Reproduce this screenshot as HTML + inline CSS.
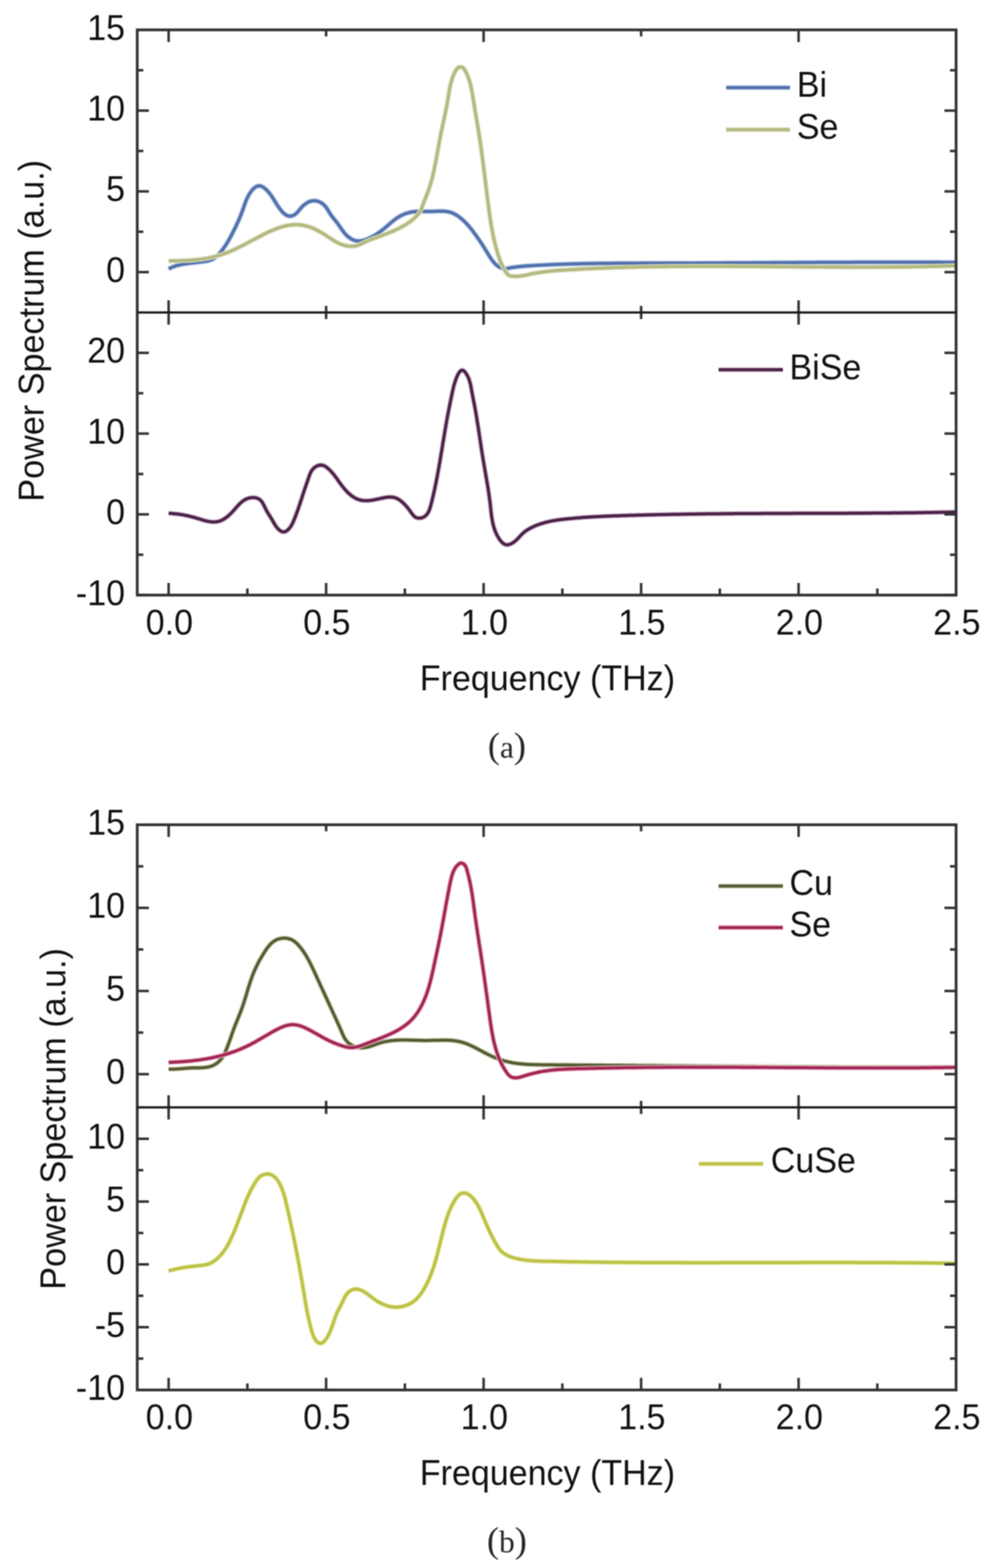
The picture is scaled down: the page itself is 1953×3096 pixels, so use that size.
<!DOCTYPE html>
<html><head><meta charset="utf-8"><title>Power Spectrum</title>
<style>html,body{margin:0;padding:0;background:#fff;overflow:hidden;width:1953px;height:3096px;}svg{display:block;filter:blur(1px);}</style>
</head><body>
<svg width="1953" height="3096" viewBox="0 0 1953 3096">
<rect width="1953" height="3096" fill="#fff"/>
<defs>
<path id="c0" d="M333.0,531.0L335.2,529.8 337.5,528.7 339.7,527.7 342.1,526.7 344.4,525.9 346.8,525.1 349.2,524.4 351.6,523.7 354.0,523.1 356.5,522.6 358.9,522.1 361.4,521.6 363.8,521.2 366.3,520.8 368.8,520.5 371.2,520.1 373.7,519.8 376.2,519.5 378.6,519.2 381.1,518.9 383.6,518.6 386.1,518.4 388.5,518.1 391.0,517.8 393.5,517.5 396.0,517.3 398.5,517.0 401.1,516.7 403.6,516.3 406.1,515.9 408.6,515.5 411.0,515.0 413.4,514.3 415.8,513.6 418.1,512.7 420.3,511.6 422.4,510.3 424.4,508.9 426.4,507.4 428.3,505.7 430.1,503.9 431.9,502.1 433.6,500.2 435.2,498.3 436.8,496.3 438.4,494.4 439.9,492.4 441.4,490.4 442.8,488.3 444.2,486.3 445.6,484.2 446.9,482.1 448.2,480.0 449.5,477.9 450.8,475.7 452.0,473.6 453.2,471.4 454.4,469.2 455.6,467.0 456.8,464.8 457.9,462.6 459.1,460.4 460.2,458.2 461.3,455.9 462.4,453.7 463.6,451.4 464.7,449.2 465.8,446.9 466.8,444.6 467.9,442.3 468.9,440.0 470.0,437.8 471.0,435.5 472.0,433.2 473.0,430.9 474.0,428.5 474.9,426.2 475.8,423.9 476.7,421.6 477.6,419.3 478.5,416.9 479.3,414.6 480.2,412.3 481.0,410.0 481.8,407.6 482.6,405.3 483.4,403.0 484.2,400.7 485.1,398.3 486.0,396.0 487.0,393.8 488.0,391.5 489.1,389.2 490.2,387.0 491.5,384.7 492.8,382.5 494.2,380.3 495.8,378.1 497.4,376.0 499.2,374.0 501.0,372.2 502.9,370.5 504.9,369.1 506.9,368.0 509.0,367.3 511.1,366.9 513.3,367.0 515.4,367.6 517.6,368.5 519.7,369.7 521.9,371.2 523.9,372.9 525.9,374.7 527.9,376.7 529.7,378.8 531.5,380.8 533.1,382.9 534.6,384.9 536.1,387.0 537.5,389.0 538.8,391.0 540.1,393.0 541.4,395.1 542.6,397.1 543.9,399.1 545.1,401.1 546.4,403.2 547.7,405.2 549.1,407.3 550.5,409.3 551.9,411.4 553.5,413.4 555.1,415.5 556.9,417.6 558.7,419.5 560.6,421.3 562.6,423.0 564.7,424.4 566.8,425.5 569.1,426.3 571.4,426.7 573.8,426.7 576.2,426.3 578.5,425.6 580.8,424.6 582.8,423.2 584.7,421.7 586.4,420.0 588.1,418.2 589.7,416.2 591.3,414.3 592.9,412.3 594.6,410.3 596.4,408.4 598.3,406.5 600.3,404.8 602.4,403.2 604.5,401.7 606.7,400.3 608.9,399.1 611.2,398.1 613.6,397.3 615.9,396.8 618.3,396.4 620.7,396.3 623.1,396.5 625.5,396.9 627.9,397.6 630.3,398.4 632.5,399.5 634.7,400.7 636.8,402.1 638.8,403.7 640.6,405.4 642.3,407.3 643.9,409.2 645.3,411.3 646.7,413.4 648.0,415.6 649.3,417.8 650.6,419.9 652.0,422.1 653.4,424.2 654.8,426.2 656.3,428.2 657.9,430.1 659.5,432.1 661.0,434.0 662.6,435.9 664.2,437.9 665.7,439.8 667.2,441.9 668.6,443.9 670.0,445.9 671.4,448.0 672.8,450.1 674.3,452.1 675.7,454.2 677.2,456.2 678.7,458.1 680.3,460.1 681.9,462.0 683.6,463.8 685.4,465.6 687.3,467.2 689.3,468.8 691.4,470.3 693.5,471.7 695.8,472.9 698.1,474.0 700.5,474.8 702.8,475.3 705.3,475.7 707.7,475.8 710.1,475.7 712.6,475.5 715.0,475.1 717.4,474.5 719.9,473.8 722.3,473.0 724.7,472.2 727.0,471.2 729.4,470.1 731.6,469.1 733.9,467.9 736.1,466.8 738.3,465.5 740.5,464.3 742.6,463.0 744.7,461.6 746.8,460.2 748.8,458.8 750.8,457.4 752.8,455.9 754.8,454.4 756.7,452.8 758.7,451.2 760.6,449.6 762.5,448.0 764.4,446.4 766.3,444.7 768.2,443.1 770.1,441.4 772.0,439.8 773.9,438.2 775.8,436.6 777.8,435.0 779.8,433.5 781.8,432.0 783.8,430.6 785.9,429.2 788.1,427.9 790.2,426.7 792.4,425.5 794.7,424.4 796.9,423.4 799.2,422.4 801.5,421.6 803.9,420.8 806.2,420.1 808.6,419.5 811.0,419.0 813.4,418.5 815.9,418.2 818.3,417.9 820.8,417.7 823.2,417.6 825.7,417.5 828.2,417.4 830.7,417.4 833.2,417.4 835.8,417.5 838.3,417.5 840.8,417.5 843.4,417.6 845.9,417.6 848.5,417.6 851.0,417.5 853.6,417.5 856.1,417.4 858.7,417.3 861.2,417.2 863.8,417.1 866.3,417.0 868.8,416.9 871.3,416.9 873.8,417.0 876.3,417.1 878.7,417.2 881.2,417.5 883.6,417.8 886.0,418.3 888.3,418.9 890.6,419.5 892.9,420.4 895.2,421.3 897.4,422.4 899.6,423.6 901.7,424.9 903.8,426.2 905.9,427.7 907.9,429.2 909.9,430.8 911.9,432.5 913.8,434.2 915.6,435.9 917.5,437.7 919.2,439.4 921.0,441.2 922.7,443.1 924.4,444.9 926.0,446.8 927.6,448.7 929.2,450.6 930.8,452.6 932.3,454.5 933.8,456.5 935.3,458.5 936.8,460.5 938.2,462.5 939.7,464.5 941.1,466.5 942.6,468.5 944.0,470.6 945.4,472.6 946.8,474.6 948.2,476.7 949.5,478.8 950.9,480.9 952.3,482.9 953.6,485.0 955.0,487.1 956.3,489.3 957.6,491.4 959.0,493.5 960.3,495.7 961.6,497.8 962.9,500.0 964.2,502.2 965.5,504.4 966.9,506.5 968.2,508.6 969.6,510.7 971.1,512.8 972.6,514.8 974.1,516.8 975.7,518.7 977.4,520.5 979.2,522.2 981.0,523.8 983.0,525.4 985.1,526.8 987.2,528.0 989.5,529.1 991.8,529.9 994.2,530.3 996.6,530.4 999.1,530.3 1001.6,529.9 1004.1,529.5 1006.6,529.0 1009.1,528.6 1011.6,528.2 1014.1,527.8 1016.6,527.5 1019.1,527.1 1021.6,526.8 1024.1,526.6 1026.6,526.3 1029.1,526.0 1031.6,525.8 1034.1,525.6 1036.6,525.4 1039.0,525.2 1041.5,525.0 1044.0,524.9 1046.5,524.7 1049.0,524.5 1051.5,524.4 1054.0,524.2 1056.5,524.1 1058.9,524.0 1061.4,523.8 1063.9,523.7 1066.4,523.6 1068.9,523.4 1071.4,523.3 1073.9,523.2 1076.4,523.1 1078.9,522.9 1081.4,522.8 1083.8,522.7 1086.3,522.6 1088.8,522.5 1091.3,522.4 1093.8,522.3 1096.3,522.2 1098.8,522.1 1101.3,522.0 1103.8,521.9 1106.3,521.8 1108.8,521.7 1111.3,521.7 1113.8,521.6 1116.3,521.5 1118.7,521.4 1121.2,521.3 1123.7,521.3 1126.2,521.2 1128.7,521.1 1131.2,521.1 1133.7,521.0 1136.2,520.9 1138.7,520.9 1141.2,520.8 1143.7,520.8 1146.2,520.7 1148.7,520.7 1151.2,520.6 1153.7,520.6 1156.2,520.5 1158.7,520.5 1161.2,520.4 1163.7,520.4 1166.2,520.3 1168.7,520.3 1171.2,520.3 1173.7,520.2 1176.1,520.2 1178.6,520.2 1181.1,520.1 1183.6,520.1 1186.1,520.1 1188.6,520.0 1191.1,520.0 1193.6,520.0 1196.1,520.0 1198.6,519.9 1201.1,519.9 1203.6,519.9 1206.1,519.9 1208.6,519.9 1211.1,519.8 1213.6,519.8 1216.1,519.8 1218.6,519.8 1221.1,519.8 1223.6,519.8 1226.1,519.8 1228.6,519.7 1231.1,519.7 1233.6,519.7 1236.1,519.7 1238.6,519.7 1241.1,519.7 1243.6,519.7 1246.1,519.7 1248.6,519.7 1251.1,519.7 1253.6,519.7 1256.1,519.7 1258.6,519.7 1261.1,519.7 1263.6,519.7 1266.1,519.6 1268.6,519.6 1271.1,519.6 1273.6,519.6 1276.1,519.6 1278.6,519.6 1281.1,519.6 1283.6,519.6 1286.1,519.6 1288.6,519.6 1291.1,519.6 1293.6,519.6 1296.1,519.6 1298.6,519.6 1301.1,519.6 1303.6,519.6 1306.1,519.6 1308.6,519.6 1311.1,519.6 1313.6,519.6 1316.1,519.6 1318.6,519.6 1321.1,519.6 1323.6,519.6 1326.1,519.6 1328.6,519.5 1331.1,519.5 1333.6,519.5 1336.1,519.5 1338.6,519.5 1341.1,519.5 1343.6,519.5 1346.1,519.5 1348.6,519.5 1351.1,519.5 1353.6,519.5 1356.1,519.5 1358.6,519.5 1361.1,519.4 1363.6,519.4 1366.1,519.4 1368.6,519.4 1371.0,519.4 1373.5,519.4 1376.0,519.4 1378.5,519.4 1381.0,519.4 1383.5,519.4 1386.0,519.4 1388.5,519.3 1391.0,519.3 1393.5,519.3 1396.0,519.3 1398.5,519.3 1401.0,519.3 1403.5,519.3 1406.0,519.3 1408.5,519.3 1411.0,519.2 1413.5,519.2 1416.0,519.2 1418.5,519.2 1421.0,519.2 1423.5,519.2 1426.0,519.2 1428.5,519.2 1431.0,519.1 1433.5,519.1 1436.0,519.1 1438.5,519.1 1441.0,519.1 1443.5,519.1 1446.0,519.1 1448.5,519.1 1451.0,519.0 1453.5,519.0 1456.0,519.0 1458.5,519.0 1461.0,519.0 1463.5,519.0 1466.0,519.0 1468.5,518.9 1471.0,518.9 1473.4,518.9 1475.9,518.9 1478.4,518.9 1480.9,518.9 1483.4,518.9 1485.9,518.9 1488.4,518.8 1490.9,518.8 1493.4,518.8 1495.9,518.8 1498.4,518.8 1500.9,518.8 1503.4,518.8 1505.9,518.7 1508.4,518.7 1510.9,518.7 1513.4,518.7 1515.9,518.7 1518.4,518.7 1520.9,518.7 1523.4,518.6 1525.9,518.6 1528.4,518.6 1530.9,518.6 1533.4,518.6 1535.9,518.6 1538.4,518.6 1540.9,518.5 1543.4,518.5 1545.9,518.5 1548.4,518.5 1550.9,518.5 1553.3,518.5 1555.8,518.5 1558.3,518.4 1560.8,518.4 1563.3,518.4 1565.8,518.4 1568.3,518.4 1570.8,518.4 1573.3,518.4 1575.8,518.3 1578.3,518.3 1580.8,518.3 1583.3,518.3 1585.8,518.3 1588.3,518.3 1590.8,518.3 1593.3,518.2 1595.8,518.2 1598.3,518.2 1600.8,518.2 1603.3,518.2 1605.8,518.2 1608.3,518.2 1610.8,518.2 1613.3,518.1 1615.8,518.1 1618.3,518.1 1620.8,518.1 1623.3,518.1 1625.8,518.1 1628.2,518.1 1630.7,518.1 1633.2,518.1 1635.7,518.0 1638.2,518.0 1640.7,518.0 1643.2,518.0 1645.7,518.0 1648.2,518.0 1650.7,518.0 1653.2,518.0 1655.7,518.0 1658.2,517.9 1660.7,517.9 1663.2,517.9 1665.7,517.9 1668.2,517.9 1670.7,517.9 1673.2,517.9 1675.7,517.9 1678.2,517.9 1680.7,517.9 1683.2,517.9 1685.7,517.8 1688.2,517.8 1690.7,517.8 1693.2,517.8 1695.7,517.8 1698.2,517.8 1700.7,517.8 1703.2,517.8 1705.7,517.8 1708.1,517.8 1710.6,517.8 1713.1,517.8 1715.6,517.8 1718.1,517.8 1720.6,517.7 1723.1,517.7 1725.6,517.7 1728.1,517.7 1730.6,517.7 1733.1,517.7 1735.6,517.7 1738.1,517.7 1740.6,517.7 1743.1,517.7 1745.6,517.7 1748.1,517.7 1750.6,517.7 1753.1,517.7 1755.6,517.7 1758.1,517.7 1760.6,517.7 1763.1,517.7 1765.6,517.7 1768.1,517.7 1770.6,517.7 1773.1,517.7 1775.6,517.7 1778.1,517.7 1780.6,517.7 1783.1,517.7 1785.6,517.7 1788.1,517.7 1790.6,517.7 1793.1,517.7 1795.6,517.7 1798.1,517.7 1800.6,517.7 1803.1,517.7 1805.6,517.7 1808.0,517.7 1810.5,517.7 1813.0,517.7 1815.5,517.7 1818.0,517.7 1820.5,517.7 1823.0,517.7 1825.5,517.7 1828.0,517.7 1830.5,517.8 1833.0,517.8 1835.5,517.8 1838.0,517.8 1840.5,517.8 1843.0,517.8 1845.5,517.8 1848.0,517.8 1850.5,517.8 1853.0,517.8 1855.5,517.8 1858.0,517.8 1860.5,517.9 1863.0,517.9 1865.5,517.9 1868.0,517.9 1870.5,517.9 1873.0,517.9 1875.5,517.9 1878.0,517.9 1880.5,518.0 1883.0,518.0 1885.5,518.0 1888.0,518.0"/>
<path id="c1" d="M333.0,515.2L335.5,515.2 338.0,515.1 340.5,515.1 343.0,515.1 345.5,515.0 348.0,515.0 350.5,514.9 353.0,514.9 355.5,514.8 358.0,514.7 360.5,514.6 363.0,514.5 365.5,514.4 368.0,514.3 370.5,514.2 372.9,514.1 375.4,513.9 377.9,513.7 380.4,513.5 382.9,513.3 385.3,513.1 387.8,512.9 390.3,512.6 392.8,512.3 395.2,512.0 397.7,511.7 400.2,511.3 402.7,510.9 405.2,510.5 407.6,510.1 410.1,509.6 412.6,509.2 415.1,508.6 417.5,508.1 420.0,507.6 422.4,507.0 424.9,506.3 427.3,505.7 429.7,505.0 432.1,504.3 434.5,503.6 436.9,502.9 439.3,502.1 441.7,501.3 444.0,500.4 446.3,499.6 448.7,498.7 451.0,497.8 453.3,496.8 455.5,495.9 457.8,494.9 460.1,493.9 462.3,492.9 464.6,491.9 466.8,490.8 469.0,489.7 471.3,488.6 473.5,487.5 475.7,486.4 477.9,485.3 480.1,484.2 482.3,483.0 484.5,481.9 486.7,480.7 488.9,479.6 491.1,478.4 493.3,477.2 495.5,476.0 497.7,474.9 500.0,473.7 502.2,472.5 504.4,471.3 506.6,470.1 508.8,469.0 511.1,467.8 513.3,466.6 515.5,465.5 517.8,464.3 520.1,463.2 522.3,462.0 524.6,460.9 526.9,459.8 529.2,458.7 531.5,457.6 533.8,456.6 536.1,455.5 538.4,454.5 540.8,453.6 543.1,452.6 545.5,451.7 547.8,450.9 550.2,450.0 552.5,449.2 554.9,448.5 557.3,447.8 559.7,447.1 562.1,446.5 564.5,445.9 566.9,445.4 569.3,445.0 571.7,444.6 574.1,444.3 576.5,444.0 578.9,443.8 581.3,443.7 583.8,443.6 586.2,443.6 588.6,443.7 591.1,443.8 593.5,444.1 595.9,444.4 598.4,444.8 600.8,445.3 603.3,445.8 605.7,446.5 608.1,447.2 610.6,448.0 613.0,448.8 615.4,449.7 617.8,450.7 620.2,451.7 622.5,452.8 624.8,453.9 627.2,455.1 629.4,456.3 631.7,457.5 633.9,458.8 636.1,460.1 638.3,461.4 640.4,462.8 642.5,464.1 644.6,465.5 646.7,466.9 648.8,468.3 650.8,469.6 652.9,471.0 654.9,472.3 657.0,473.7 659.0,474.9 661.1,476.2 663.2,477.4 665.4,478.5 667.6,479.6 669.8,480.7 672.0,481.7 674.3,482.6 676.7,483.4 679.1,484.1 681.6,484.8 684.1,485.3 686.6,485.8 689.1,486.1 691.7,486.3 694.2,486.3 696.7,486.3 699.2,486.0 701.7,485.7 704.1,485.1 706.5,484.4 708.8,483.5 711.1,482.6 713.4,481.5 715.7,480.4 717.9,479.3 720.2,478.2 722.4,477.1 724.7,476.1 727.0,475.1 729.3,474.2 731.6,473.3 734.0,472.4 736.3,471.5 738.6,470.7 741.0,469.8 743.3,469.0 745.7,468.1 748.0,467.3 750.4,466.4 752.7,465.5 755.1,464.7 757.4,463.8 759.8,462.9 762.1,462.0 764.5,461.1 766.8,460.2 769.1,459.2 771.4,458.3 773.7,457.3 776.0,456.4 778.3,455.3 780.6,454.3 782.9,453.3 785.1,452.2 787.4,451.1 789.6,450.0 791.8,448.8 794.0,447.6 796.1,446.4 798.3,445.2 800.4,443.9 802.5,442.6 804.6,441.2 806.7,439.8 808.7,438.4 810.8,436.9 812.8,435.4 814.7,433.8 816.6,432.2 818.5,430.5 820.4,428.8 822.1,427.0 823.8,425.2 825.4,423.3 826.9,421.4 828.3,419.3 829.6,417.3 830.8,415.1 831.8,412.9 832.8,410.6 833.7,408.3 834.5,405.9 835.4,403.6 836.2,401.2 837.1,398.8 838.0,396.5 838.9,394.2 839.9,391.8 840.9,389.5 841.8,387.2 842.8,384.9 843.7,382.5 844.6,380.2 845.4,377.8 846.2,375.5 847.1,373.1 847.8,370.7 848.6,368.4 849.3,366.0 850.1,363.6 850.8,361.2 851.5,358.8 852.1,356.4 852.8,354.0 853.4,351.6 854.0,349.2 854.6,346.8 855.2,344.4 855.7,341.9 856.3,339.5 856.8,337.1 857.3,334.7 857.9,332.2 858.4,329.8 858.9,327.3 859.4,324.9 859.8,322.4 860.3,320.0 860.8,317.5 861.2,315.1 861.7,312.6 862.1,310.2 862.6,307.7 863.0,305.2 863.5,302.8 863.9,300.3 864.3,297.9 864.8,295.4 865.2,292.9 865.7,290.5 866.1,288.0 866.5,285.5 867.0,283.1 867.5,280.6 867.9,278.2 868.4,275.7 868.9,273.2 869.3,270.8 869.8,268.3 870.3,265.9 870.8,263.4 871.3,260.9 871.8,258.5 872.4,256.0 872.9,253.6 873.4,251.1 873.9,248.7 874.4,246.2 875.0,243.8 875.5,241.3 876.0,238.9 876.5,236.4 877.0,234.0 877.6,231.5 878.1,229.1 878.6,226.7 879.1,224.2 879.6,221.8 880.1,219.3 880.6,216.9 881.1,214.4 881.5,212.0 882.0,209.5 882.5,207.1 882.9,204.7 883.3,202.2 883.8,199.8 884.2,197.3 884.6,194.9 885.0,192.4 885.4,190.0 885.8,187.5 886.2,185.1 886.6,182.6 887.0,180.2 887.4,177.8 887.9,175.3 888.3,172.9 888.8,170.4 889.4,168.0 889.9,165.6 890.6,163.1 891.2,160.7 891.9,158.3 892.7,155.9 893.5,153.5 894.4,151.0 895.4,148.6 896.4,146.2 897.5,143.8 898.7,141.4 900.0,139.1 901.4,136.9 903.1,135.0 904.9,133.5 907.0,132.6 909.2,132.1 911.2,132.3 913.1,133.1 914.8,134.4 916.4,136.1 917.8,138.2 919.1,140.4 920.4,142.8 921.5,145.2 922.6,147.6 923.6,150.1 924.5,152.5 925.4,154.9 926.3,157.3 927.0,159.8 927.7,162.2 928.4,164.6 929.1,167.0 929.6,169.5 930.2,171.9 930.7,174.3 931.2,176.8 931.7,179.2 932.1,181.6 932.6,184.1 933.0,186.5 933.4,189.0 933.8,191.4 934.2,193.8 934.6,196.3 935.0,198.7 935.4,201.2 935.8,203.6 936.2,206.1 936.6,208.5 937.0,211.0 937.4,213.4 937.8,215.9 938.2,218.4 938.6,220.8 939.1,223.3 939.5,225.7 939.9,228.2 940.3,230.7 940.7,233.1 941.1,235.6 941.5,238.1 942.0,240.5 942.4,243.0 942.8,245.5 943.2,248.0 943.6,250.4 944.0,252.9 944.4,255.4 944.8,257.9 945.2,260.3 945.6,262.8 946.0,265.3 946.4,267.7 946.8,270.2 947.1,272.7 947.5,275.2 947.9,277.6 948.2,280.1 948.6,282.6 949.0,285.1 949.3,287.5 949.7,290.0 950.0,292.5 950.4,295.0 950.7,297.4 951.1,299.9 951.4,302.4 951.7,304.9 952.1,307.4 952.4,309.8 952.7,312.3 953.0,314.8 953.4,317.3 953.7,319.7 954.0,322.2 954.3,324.7 954.6,327.2 954.9,329.6 955.2,332.1 955.6,334.6 955.9,337.1 956.2,339.5 956.5,342.0 956.8,344.5 957.1,347.0 957.4,349.4 957.7,351.9 958.0,354.4 958.3,356.9 958.6,359.3 958.9,361.8 959.2,364.3 959.5,366.8 959.8,369.3 960.1,371.7 960.4,374.2 960.7,376.7 961.0,379.2 961.3,381.6 961.6,384.1 962.0,386.6 962.3,389.1 962.6,391.6 962.9,394.0 963.2,396.5 963.5,399.0 963.8,401.5 964.2,404.0 964.5,406.4 964.8,408.9 965.2,411.4 965.5,413.9 965.8,416.4 966.2,418.8 966.5,421.3 966.9,423.8 967.2,426.3 967.6,428.7 967.9,431.2 968.3,433.7 968.7,436.2 969.1,438.6 969.5,441.1 969.9,443.6 970.3,446.0 970.7,448.5 971.2,451.0 971.6,453.4 972.1,455.9 972.5,458.3 973.0,460.8 973.5,463.2 974.0,465.7 974.5,468.1 975.0,470.5 975.6,473.0 976.1,475.4 976.7,477.8 977.3,480.3 977.9,482.7 978.5,485.1 979.2,487.5 979.8,489.9 980.5,492.3 981.2,494.7 981.9,497.1 982.6,499.5 983.3,501.9 984.1,504.2 984.9,506.6 985.7,509.0 986.5,511.3 987.3,513.7 988.2,516.0 989.2,518.3 990.1,520.7 991.1,523.0 992.2,525.2 993.3,527.5 994.5,529.7 995.7,532.0 997.0,534.2 998.3,536.3 999.7,538.5 1001.3,540.4 1003.0,542.1 1005.0,543.5 1007.2,544.4 1009.5,545.1 1012.0,545.4 1014.5,545.6 1017.0,545.7 1019.6,545.7 1022.1,545.5 1024.5,545.4 1027.0,545.1 1029.5,544.8 1032.0,544.4 1034.5,544.0 1036.9,543.5 1039.4,543.0 1041.9,542.5 1044.3,542.0 1046.8,541.4 1049.2,540.9 1051.7,540.4 1054.2,539.9 1056.6,539.5 1059.1,539.0 1061.6,538.6 1064.0,538.2 1066.5,537.8 1069.0,537.5 1071.5,537.1 1073.9,536.8 1076.4,536.5 1078.9,536.2 1081.4,535.9 1083.9,535.6 1086.3,535.4 1088.8,535.1 1091.3,534.9 1093.8,534.7 1096.3,534.5 1098.8,534.3 1101.3,534.1 1103.8,533.9 1106.2,533.7 1108.7,533.5 1111.2,533.4 1113.7,533.2 1116.2,533.1 1118.7,532.9 1121.2,532.8 1123.7,532.6 1126.2,532.5 1128.7,532.3 1131.2,532.2 1133.7,532.0 1136.2,531.9 1138.7,531.8 1141.2,531.6 1143.6,531.5 1146.1,531.3 1148.6,531.2 1151.1,531.1 1153.6,531.0 1156.1,530.8 1158.6,530.7 1161.1,530.6 1163.6,530.5 1166.1,530.4 1168.6,530.2 1171.1,530.1 1173.6,530.0 1176.1,529.9 1178.6,529.8 1181.1,529.7 1183.6,529.6 1186.0,529.5 1188.5,529.4 1191.0,529.3 1193.5,529.2 1196.0,529.1 1198.5,529.0 1201.0,528.9 1203.5,528.8 1206.0,528.7 1208.5,528.6 1211.0,528.6 1213.5,528.5 1216.0,528.4 1218.5,528.3 1221.0,528.2 1223.5,528.1 1226.0,528.1 1228.5,528.0 1231.0,527.9 1233.5,527.8 1236.0,527.8 1238.5,527.7 1241.0,527.6 1243.5,527.6 1245.9,527.5 1248.4,527.4 1250.9,527.4 1253.4,527.3 1255.9,527.3 1258.4,527.2 1260.9,527.1 1263.4,527.1 1265.9,527.0 1268.4,527.0 1270.9,526.9 1273.4,526.9 1275.9,526.8 1278.4,526.8 1280.9,526.7 1283.4,526.7 1285.9,526.6 1288.4,526.6 1290.9,526.6 1293.4,526.5 1295.9,526.5 1298.4,526.4 1300.9,526.4 1303.4,526.4 1305.9,526.3 1308.4,526.3 1310.9,526.3 1313.4,526.2 1315.9,526.2 1318.4,526.2 1320.9,526.1 1323.4,526.1 1325.9,526.1 1328.4,526.1 1330.9,526.0 1333.4,526.0 1335.9,526.0 1338.4,526.0 1340.9,526.0 1343.4,525.9 1345.8,525.9 1348.3,525.9 1350.8,525.9 1353.3,525.9 1355.8,525.9 1358.3,525.8 1360.8,525.8 1363.3,525.8 1365.8,525.8 1368.3,525.8 1370.8,525.8 1373.3,525.8 1375.8,525.8 1378.3,525.8 1380.8,525.8 1383.3,525.8 1385.8,525.8 1388.3,525.7 1390.8,525.7 1393.3,525.7 1395.8,525.7 1398.3,525.7 1400.8,525.7 1403.3,525.7 1405.8,525.7 1408.3,525.7 1410.8,525.7 1413.3,525.8 1415.8,525.8 1418.3,525.8 1420.8,525.8 1423.3,525.8 1425.8,525.8 1428.3,525.8 1430.8,525.8 1433.3,525.8 1435.8,525.8 1438.3,525.8 1440.8,525.8 1443.3,525.8 1445.8,525.9 1448.3,525.9 1450.8,525.9 1453.3,525.9 1455.8,525.9 1458.3,525.9 1460.8,525.9 1463.3,525.9 1465.8,526.0 1468.3,526.0 1470.8,526.0 1473.3,526.0 1475.8,526.0 1478.3,526.0 1480.8,526.0 1483.3,526.1 1485.8,526.1 1488.3,526.1 1490.8,526.1 1493.3,526.1 1495.8,526.2 1498.3,526.2 1500.8,526.2 1503.3,526.2 1505.8,526.2 1508.3,526.2 1510.8,526.3 1513.3,526.3 1515.8,526.3 1518.3,526.3 1520.8,526.3 1523.3,526.4 1525.8,526.4 1528.3,526.4 1530.8,526.4 1533.3,526.4 1535.8,526.5 1538.3,526.5 1540.8,526.5 1543.3,526.5 1545.8,526.6 1548.3,526.6 1550.8,526.6 1553.3,526.6 1555.8,526.6 1558.3,526.7 1560.8,526.7 1563.3,526.7 1565.8,526.7 1568.3,526.7 1570.8,526.8 1573.3,526.8 1575.8,526.8 1578.3,526.8 1580.8,526.8 1583.3,526.9 1585.8,526.9 1588.3,526.9 1590.8,526.9 1593.3,526.9 1595.8,527.0 1598.3,527.0 1600.8,527.0 1603.3,527.0 1605.8,527.0 1608.3,527.0 1610.8,527.1 1613.3,527.1 1615.8,527.1 1618.3,527.1 1620.8,527.1 1623.3,527.1 1625.8,527.2 1628.3,527.2 1630.8,527.2 1633.3,527.2 1635.8,527.2 1638.3,527.2 1640.8,527.2 1643.3,527.3 1645.8,527.3 1648.3,527.3 1650.8,527.3 1653.3,527.3 1655.8,527.3 1658.3,527.3 1660.8,527.3 1663.3,527.3 1665.8,527.3 1668.3,527.4 1670.8,527.4 1673.3,527.4 1675.8,527.4 1678.3,527.4 1680.8,527.4 1683.3,527.4 1685.8,527.4 1688.2,527.4 1690.7,527.4 1693.2,527.4 1695.7,527.4 1698.2,527.4 1700.7,527.4 1703.2,527.4 1705.7,527.4 1708.2,527.4 1710.7,527.4 1713.2,527.4 1715.7,527.4 1718.2,527.4 1720.7,527.4 1723.2,527.4 1725.7,527.4 1728.2,527.3 1730.7,527.3 1733.2,527.3 1735.7,527.3 1738.2,527.3 1740.7,527.3 1743.2,527.3 1745.7,527.3 1748.2,527.2 1750.7,527.2 1753.2,527.2 1755.7,527.2 1758.2,527.2 1760.7,527.1 1763.2,527.1 1765.7,527.1 1768.2,527.1 1770.7,527.1 1773.2,527.0 1775.7,527.0 1778.2,527.0 1780.7,526.9 1783.2,526.9 1785.7,526.9 1788.2,526.8 1790.7,526.8 1793.2,526.8 1795.7,526.7 1798.2,526.7 1800.7,526.7 1803.1,526.6 1805.6,526.6 1808.1,526.5 1810.6,526.5 1813.1,526.5 1815.6,526.4 1818.1,526.4 1820.6,526.3 1823.1,526.3 1825.6,526.2 1828.1,526.2 1830.6,526.1 1833.1,526.1 1835.6,526.0 1838.1,525.9 1840.6,525.9 1843.1,525.8 1845.6,525.8 1848.1,525.7 1850.6,525.6 1853.1,525.6 1855.6,525.5 1858.1,525.4 1860.6,525.4 1863.1,525.3 1865.5,525.2 1868.0,525.1 1870.5,525.1 1873.0,525.0 1875.5,524.9 1878.0,524.8 1880.5,524.8 1883.0,524.7 1885.5,524.6 1888.0,524.5"/>
<path id="c2" d="M333.0,1013.5L335.6,1013.6 338.2,1013.8 340.8,1014.0 343.3,1014.2 345.8,1014.4 348.3,1014.7 350.8,1015.0 353.2,1015.3 355.6,1015.7 358.0,1016.0 360.4,1016.4 362.8,1016.9 365.2,1017.3 367.5,1017.8 369.9,1018.3 372.3,1018.8 374.7,1019.4 377.0,1020.0 379.4,1020.6 381.8,1021.2 384.2,1021.9 386.7,1022.6 389.1,1023.3 391.6,1024.1 394.1,1024.9 396.6,1025.6 399.1,1026.4 401.6,1027.1 404.2,1027.8 406.7,1028.5 409.2,1029.0 411.7,1029.6 414.2,1030.0 416.7,1030.3 419.2,1030.6 421.6,1030.7 424.0,1030.6 426.4,1030.4 428.8,1030.1 431.1,1029.6 433.4,1028.9 435.6,1028.1 437.8,1027.2 440.0,1026.1 442.1,1024.9 444.2,1023.5 446.3,1022.1 448.3,1020.6 450.2,1019.0 452.2,1017.3 454.1,1015.5 455.9,1013.7 457.7,1011.9 459.5,1010.0 461.3,1008.0 463.0,1006.1 464.7,1004.1 466.4,1002.2 468.1,1000.3 469.8,998.4 471.5,996.6 473.3,994.8 475.1,993.1 476.9,991.4 478.8,989.9 480.8,988.5 482.8,987.2 485.0,986.0 487.2,985.0 489.5,984.1 491.9,983.4 494.4,982.9 496.9,982.6 499.5,982.5 502.0,982.5 504.4,982.9 506.8,983.4 509.0,984.2 511.2,985.2 513.1,986.6 514.9,988.2 516.6,990.0 518.0,992.1 519.4,994.3 520.6,996.6 521.8,999.1 523.0,1001.5 524.2,1003.9 525.3,1006.3 526.5,1008.6 527.8,1010.8 529.0,1013.0 530.3,1015.1 531.6,1017.1 532.9,1019.2 534.2,1021.2 535.5,1023.3 536.8,1025.3 538.0,1027.5 539.3,1029.7 540.5,1031.9 541.8,1034.1 543.1,1036.3 544.5,1038.4 546.0,1040.6 547.6,1042.6 549.4,1044.5 551.3,1046.3 553.4,1047.9 555.6,1049.2 557.8,1050.0 560.0,1050.3 562.2,1050.0 564.4,1049.1 566.5,1047.8 568.5,1046.2 570.3,1044.4 572.0,1042.5 573.6,1040.4 575.0,1038.3 576.2,1036.1 577.4,1033.8 578.5,1031.5 579.5,1029.2 580.5,1026.8 581.5,1024.5 582.4,1022.1 583.3,1019.8 584.2,1017.4 585.1,1015.0 586.0,1012.7 586.8,1010.3 587.7,1008.0 588.5,1005.6 589.3,1003.3 590.1,1000.9 590.9,998.5 591.7,996.2 592.5,993.8 593.3,991.5 594.0,989.1 594.8,986.8 595.6,984.4 596.4,982.0 597.1,979.7 597.9,977.3 598.7,975.0 599.4,972.6 600.2,970.3 601.0,967.9 601.8,965.5 602.6,963.2 603.4,960.8 604.2,958.4 605.0,956.1 605.8,953.7 606.7,951.3 607.5,948.9 608.3,946.5 609.1,944.1 610.0,941.7 610.8,939.3 611.7,936.9 612.7,934.6 613.8,932.3 615.0,930.1 616.4,928.0 617.9,926.1 619.7,924.3 621.8,922.6 624.0,921.2 626.3,920.0 628.8,919.0 631.3,918.5 633.8,918.3 636.2,918.5 638.6,919.1 640.8,920.0 643.0,921.3 645.1,922.8 647.1,924.4 649.0,926.1 650.9,927.9 652.7,929.7 654.4,931.5 656.0,933.4 657.6,935.3 659.2,937.2 660.7,939.1 662.2,941.1 663.6,943.0 665.1,945.0 666.5,947.0 667.9,949.0 669.3,951.0 670.8,953.0 672.2,955.0 673.7,957.0 675.2,959.0 676.8,961.0 678.4,963.0 680.0,965.0 681.7,967.0 683.5,968.9 685.3,970.8 687.1,972.6 689.0,974.4 690.9,976.1 692.9,977.7 694.9,979.3 697.0,980.7 699.1,982.1 701.3,983.3 703.4,984.4 705.7,985.4 707.9,986.3 710.2,987.0 712.5,987.5 714.9,988.0 717.3,988.3 719.7,988.5 722.1,988.5 724.6,988.5 727.1,988.4 729.6,988.2 732.1,987.9 734.6,987.6 737.1,987.2 739.7,986.7 742.2,986.2 744.7,985.7 747.3,985.2 749.8,984.6 752.4,984.0 754.9,983.5 757.4,983.0 759.9,982.5 762.4,982.1 764.9,981.8 767.3,981.6 769.8,981.5 772.2,981.5 774.5,981.7 776.9,982.0 779.2,982.5 781.5,983.3 783.8,984.2 786.0,985.3 788.2,986.7 790.3,988.1 792.3,989.8 794.3,991.4 796.2,993.2 798.1,995.0 799.8,996.8 801.5,998.6 803.1,1000.4 804.7,1002.3 806.2,1004.2 807.7,1006.2 809.2,1008.3 810.8,1010.4 812.3,1012.5 813.9,1014.7 815.5,1016.8 817.3,1018.7 819.2,1020.4 821.3,1021.7 823.6,1022.6 826.1,1023.1 828.7,1023.1 831.2,1022.8 833.7,1022.2 835.9,1021.3 837.9,1020.2 839.8,1018.9 841.4,1017.4 842.9,1015.7 844.3,1013.9 845.5,1011.9 846.6,1009.8 847.6,1007.5 848.5,1005.2 849.3,1002.8 850.0,1000.3 850.7,997.8 851.4,995.3 852.1,992.7 852.7,990.2 853.3,987.6 853.9,985.1 854.5,982.6 855.1,980.0 855.7,977.5 856.2,975.0 856.8,972.5 857.4,970.0 857.9,967.5 858.4,965.0 859.0,962.5 859.5,960.0 860.0,957.5 860.5,955.0 861.0,952.6 861.5,950.1 862.0,947.6 862.5,945.2 863.0,942.7 863.4,940.2 863.9,937.8 864.3,935.3 864.8,932.9 865.2,930.4 865.7,928.0 866.1,925.5 866.6,923.1 867.0,920.6 867.4,918.2 867.9,915.7 868.3,913.3 868.7,910.9 869.1,908.4 869.5,906.0 869.9,903.6 870.3,901.1 870.7,898.7 871.1,896.2 871.6,893.8 872.0,891.4 872.4,888.9 872.8,886.5 873.2,884.1 873.6,881.6 874.0,879.2 874.3,876.8 874.7,874.3 875.1,871.9 875.5,869.4 876.0,867.0 876.4,864.6 876.8,862.1 877.2,859.7 877.6,857.2 878.0,854.8 878.4,852.3 878.8,849.9 879.2,847.4 879.6,844.9 880.1,842.5 880.5,840.0 880.9,837.5 881.4,835.1 881.8,832.6 882.2,830.1 882.7,827.6 883.1,825.1 883.6,822.6 884.1,820.1 884.5,817.6 885.0,815.1 885.5,812.6 886.0,810.1 886.5,807.6 887.0,805.1 887.5,802.6 888.0,800.1 888.5,797.6 889.0,795.1 889.5,792.6 890.0,790.1 890.5,787.7 891.0,785.3 891.5,782.9 892.0,780.5 892.5,778.1 893.0,775.8 893.5,773.5 894.0,771.2 894.5,769.0 895.0,766.7 895.5,764.4 896.1,762.1 896.8,759.7 897.5,757.3 898.3,754.8 899.1,752.3 900.1,749.6 901.1,746.8 902.3,744.0 903.5,741.1 904.9,738.4 906.3,736.0 907.8,733.9 909.4,732.3 911.1,731.3 912.8,730.9 914.5,731.4 916.3,732.6 918.0,734.3 919.7,736.4 921.3,738.8 922.7,741.3 924.0,743.8 925.1,746.3 926.1,748.7 926.9,751.2 927.6,753.6 928.3,756.0 928.9,758.4 929.4,760.8 929.8,763.2 930.3,765.6 930.8,768.0 931.2,770.4 931.7,772.8 932.1,775.2 932.6,777.7 933.1,780.1 933.5,782.5 934.0,785.0 934.5,787.4 935.0,789.9 935.4,792.4 935.9,794.8 936.4,797.3 936.9,799.7 937.3,802.2 937.8,804.7 938.2,807.1 938.7,809.6 939.1,812.1 939.6,814.6 940.0,817.0 940.4,819.5 940.8,822.0 941.2,824.4 941.6,826.9 942.0,829.4 942.4,831.9 942.8,834.3 943.2,836.8 943.6,839.3 944.0,841.7 944.4,844.2 944.8,846.7 945.1,849.2 945.5,851.6 945.9,854.1 946.3,856.6 946.6,859.1 947.0,861.5 947.4,864.0 947.7,866.5 948.1,868.9 948.5,871.4 948.9,873.9 949.2,876.4 949.6,878.8 950.0,881.3 950.3,883.8 950.7,886.2 951.1,888.7 951.5,891.2 951.9,893.6 952.2,896.1 952.6,898.6 953.0,901.0 953.4,903.5 953.8,906.0 954.2,908.4 954.6,910.9 955.1,913.4 955.5,915.8 955.9,918.3 956.3,920.7 956.7,923.2 957.2,925.7 957.6,928.1 958.0,930.6 958.5,933.0 958.9,935.5 959.3,938.0 959.7,940.4 960.2,942.9 960.6,945.3 961.0,947.8 961.4,950.3 961.8,952.7 962.3,955.2 962.7,957.7 963.1,960.1 963.5,962.6 963.9,965.1 964.2,967.6 964.6,970.0 965.0,972.5 965.4,975.0 965.7,977.5 966.1,979.9 966.4,982.4 966.7,984.9 967.1,987.4 967.4,989.9 967.7,992.4 968.0,994.9 968.3,997.3 968.5,999.8 968.8,1002.3 969.1,1004.8 969.3,1007.3 969.6,1009.8 969.9,1012.3 970.2,1014.8 970.5,1017.3 970.9,1019.8 971.2,1022.2 971.6,1024.7 972.1,1027.2 972.5,1029.6 973.0,1032.1 973.6,1034.5 974.2,1036.9 974.8,1039.3 975.5,1041.7 976.2,1044.1 977.1,1046.4 977.9,1048.8 978.9,1051.1 979.9,1053.4 981.0,1055.7 982.2,1058.0 983.5,1060.2 984.8,1062.5 986.3,1064.7 987.8,1066.8 989.4,1068.9 991.2,1070.8 993.0,1072.4 995.0,1073.8 997.0,1074.9 999.2,1075.5 1001.5,1075.7 1003.9,1075.4 1006.4,1074.8 1008.8,1073.8 1011.3,1072.5 1013.6,1071.1 1015.9,1069.5 1018.0,1067.8 1019.9,1066.1 1021.7,1064.3 1023.5,1062.5 1025.2,1060.6 1026.8,1058.8 1028.5,1057.0 1030.1,1055.3 1031.9,1053.6 1033.7,1051.9 1035.6,1050.4 1037.6,1048.9 1039.6,1047.4 1041.7,1046.1 1043.9,1044.8 1046.1,1043.5 1048.3,1042.3 1050.6,1041.2 1052.9,1040.1 1055.2,1039.1 1057.5,1038.1 1059.9,1037.1 1062.2,1036.3 1064.6,1035.4 1066.9,1034.6 1069.3,1033.8 1071.7,1033.1 1074.1,1032.4 1076.5,1031.7 1078.9,1031.1 1081.3,1030.5 1083.8,1029.9 1086.2,1029.4 1088.6,1028.9 1091.1,1028.4 1093.5,1028.0 1096.0,1027.6 1098.5,1027.2 1100.9,1026.8 1103.4,1026.4 1105.9,1026.1 1108.4,1025.8 1110.9,1025.5 1113.3,1025.2 1115.8,1024.9 1118.3,1024.6 1120.8,1024.4 1123.3,1024.1 1125.8,1023.9 1128.3,1023.7 1130.8,1023.4 1133.3,1023.2 1135.8,1023.0 1138.3,1022.8 1140.8,1022.6 1143.3,1022.4 1145.7,1022.2 1148.2,1022.0 1150.7,1021.8 1153.2,1021.6 1155.7,1021.5 1158.2,1021.3 1160.7,1021.1 1163.2,1021.0 1165.7,1020.8 1168.2,1020.7 1170.7,1020.5 1173.2,1020.4 1175.7,1020.3 1178.2,1020.1 1180.7,1020.0 1183.2,1019.9 1185.7,1019.8 1188.2,1019.6 1190.7,1019.5 1193.2,1019.4 1195.7,1019.3 1198.2,1019.2 1200.7,1019.1 1203.2,1019.0 1205.7,1018.9 1208.2,1018.8 1210.7,1018.7 1213.1,1018.6 1215.6,1018.5 1218.1,1018.5 1220.6,1018.4 1223.1,1018.3 1225.6,1018.2 1228.1,1018.1 1230.6,1018.0 1233.1,1018.0 1235.6,1017.9 1238.1,1017.8 1240.6,1017.7 1243.1,1017.6 1245.6,1017.6 1248.1,1017.5 1250.6,1017.4 1253.1,1017.4 1255.6,1017.3 1258.1,1017.2 1260.6,1017.1 1263.1,1017.1 1265.6,1017.0 1268.1,1016.9 1270.6,1016.9 1273.1,1016.8 1275.6,1016.8 1278.1,1016.7 1280.6,1016.6 1283.1,1016.6 1285.6,1016.5 1288.1,1016.5 1290.6,1016.4 1293.1,1016.3 1295.6,1016.3 1298.1,1016.2 1300.6,1016.2 1303.1,1016.1 1305.6,1016.1 1308.1,1016.0 1310.6,1016.0 1313.1,1015.9 1315.6,1015.9 1318.1,1015.8 1320.6,1015.8 1323.1,1015.7 1325.6,1015.7 1328.1,1015.6 1330.6,1015.6 1333.1,1015.5 1335.6,1015.5 1338.1,1015.4 1340.6,1015.4 1343.1,1015.4 1345.6,1015.3 1348.1,1015.3 1350.6,1015.2 1353.1,1015.2 1355.6,1015.2 1358.1,1015.1 1360.6,1015.1 1363.1,1015.1 1365.6,1015.0 1368.1,1015.0 1370.6,1014.9 1373.1,1014.9 1375.6,1014.9 1378.1,1014.8 1380.6,1014.8 1383.1,1014.8 1385.6,1014.8 1388.1,1014.7 1390.6,1014.7 1393.1,1014.7 1395.6,1014.6 1398.1,1014.6 1400.5,1014.6 1403.0,1014.6 1405.5,1014.5 1408.0,1014.5 1410.5,1014.5 1413.0,1014.5 1415.5,1014.4 1418.0,1014.4 1420.5,1014.4 1423.0,1014.4 1425.5,1014.3 1428.0,1014.3 1430.5,1014.3 1433.0,1014.3 1435.5,1014.3 1438.0,1014.2 1440.5,1014.2 1443.0,1014.2 1445.5,1014.2 1448.0,1014.2 1450.5,1014.1 1453.0,1014.1 1455.5,1014.1 1458.0,1014.1 1460.5,1014.1 1463.0,1014.1 1465.5,1014.0 1468.0,1014.0 1470.5,1014.0 1473.0,1014.0 1475.5,1014.0 1478.0,1014.0 1480.5,1014.0 1483.0,1013.9 1485.5,1013.9 1488.0,1013.9 1490.5,1013.9 1493.0,1013.9 1495.5,1013.9 1498.0,1013.9 1500.5,1013.9 1503.0,1013.9 1505.5,1013.8 1508.0,1013.8 1510.5,1013.8 1513.0,1013.8 1515.5,1013.8 1518.0,1013.8 1520.5,1013.8 1523.0,1013.8 1525.5,1013.8 1528.0,1013.8 1530.5,1013.8 1533.0,1013.7 1535.5,1013.7 1538.0,1013.7 1540.5,1013.7 1543.0,1013.7 1545.5,1013.7 1548.0,1013.7 1550.5,1013.7 1553.0,1013.7 1555.5,1013.7 1558.0,1013.7 1560.5,1013.7 1563.0,1013.7 1565.5,1013.7 1568.0,1013.6 1570.5,1013.6 1573.0,1013.6 1575.5,1013.6 1578.0,1013.6 1580.5,1013.6 1583.0,1013.6 1585.5,1013.6 1588.0,1013.6 1590.5,1013.6 1593.0,1013.6 1595.5,1013.6 1598.0,1013.6 1600.5,1013.6 1603.0,1013.6 1605.5,1013.6 1608.0,1013.6 1610.5,1013.5 1613.0,1013.5 1615.5,1013.5 1618.0,1013.5 1620.5,1013.5 1623.0,1013.5 1625.5,1013.5 1628.0,1013.5 1630.5,1013.5 1633.0,1013.5 1635.5,1013.5 1638.0,1013.5 1640.5,1013.5 1643.0,1013.5 1645.5,1013.5 1648.0,1013.4 1650.5,1013.4 1653.0,1013.4 1655.5,1013.4 1658.0,1013.4 1660.5,1013.4 1663.0,1013.4 1665.5,1013.4 1668.0,1013.4 1670.5,1013.4 1673.0,1013.4 1675.5,1013.4 1678.0,1013.3 1680.5,1013.3 1683.0,1013.3 1685.5,1013.3 1688.0,1013.3 1690.5,1013.3 1693.0,1013.3 1695.5,1013.3 1698.0,1013.3 1700.5,1013.2 1703.0,1013.2 1705.5,1013.2 1708.0,1013.2 1710.5,1013.2 1713.0,1013.2 1715.5,1013.2 1718.0,1013.2 1720.5,1013.1 1723.0,1013.1 1725.5,1013.1 1728.0,1013.1 1730.5,1013.1 1733.0,1013.1 1735.5,1013.0 1738.0,1013.0 1740.5,1013.0 1743.0,1013.0 1745.5,1013.0 1748.0,1012.9 1750.5,1012.9 1753.0,1012.9 1755.5,1012.9 1758.0,1012.9 1760.5,1012.8 1763.0,1012.8 1765.5,1012.8 1768.0,1012.8 1770.5,1012.8 1773.0,1012.7 1775.5,1012.7 1778.0,1012.7 1780.5,1012.7 1783.0,1012.6 1785.5,1012.6 1788.0,1012.6 1790.5,1012.6 1793.0,1012.5 1795.5,1012.5 1798.0,1012.5 1800.5,1012.4 1803.0,1012.4 1805.5,1012.4 1808.0,1012.4 1810.5,1012.3 1813.0,1012.3 1815.5,1012.3 1818.0,1012.2 1820.5,1012.2 1823.0,1012.2 1825.5,1012.1 1828.0,1012.1 1830.5,1012.0 1833.0,1012.0 1835.5,1012.0 1838.0,1011.9 1840.5,1011.9 1843.0,1011.8 1845.5,1011.8 1848.0,1011.8 1850.5,1011.7 1853.0,1011.7 1855.5,1011.6 1858.0,1011.6 1860.5,1011.5 1863.0,1011.5 1865.5,1011.5 1868.0,1011.4 1870.5,1011.4 1873.0,1011.3 1875.5,1011.3 1878.0,1011.2 1880.5,1011.2 1883.0,1011.1 1885.5,1011.1 1888.0,1011.0"/>
<path id="c3" d="M333.0,2111.0L335.6,2111.1 338.2,2111.1 340.7,2111.1 343.2,2111.0 345.7,2110.9 348.2,2110.8 350.7,2110.6 353.1,2110.5 355.6,2110.3 358.0,2110.1 360.5,2109.9 362.9,2109.6 365.4,2109.4 367.8,2109.2 370.3,2109.1 372.7,2108.9 375.2,2108.7 377.7,2108.6 380.2,2108.5 382.7,2108.5 385.3,2108.4 387.8,2108.4 390.4,2108.4 393.0,2108.4 395.5,2108.3 398.1,2108.2 400.6,2108.1 403.2,2107.9 405.7,2107.6 408.1,2107.3 410.6,2106.9 413.0,2106.4 415.4,2105.7 417.7,2105.0 420.0,2104.1 422.2,2103.0 424.3,2101.9 426.4,2100.6 428.4,2099.2 430.4,2097.6 432.2,2096.0 434.0,2094.2 435.6,2092.4 437.2,2090.5 438.7,2088.4 440.1,2086.3 441.3,2084.2 442.5,2082.0 443.6,2079.7 444.7,2077.4 445.7,2075.1 446.7,2072.8 447.7,2070.4 448.6,2068.1 449.5,2065.7 450.4,2063.4 451.3,2061.0 452.1,2058.7 453.0,2056.3 453.8,2054.0 454.6,2051.6 455.5,2049.2 456.3,2046.9 457.1,2044.5 457.9,2042.2 458.7,2039.8 459.5,2037.5 460.4,2035.1 461.2,2032.8 462.1,2030.5 463.0,2028.1 463.9,2025.8 464.8,2023.5 465.7,2021.2 466.7,2018.9 467.6,2016.6 468.5,2014.3 469.5,2012.0 470.4,2009.7 471.3,2007.3 472.3,2005.0 473.2,2002.7 474.1,2000.4 475.0,1998.1 475.9,1995.7 476.8,1993.4 477.6,1991.1 478.5,1988.7 479.3,1986.3 480.1,1984.0 480.9,1981.6 481.7,1979.2 482.4,1976.8 483.2,1974.4 483.9,1972.0 484.7,1969.6 485.4,1967.2 486.1,1964.8 486.9,1962.4 487.6,1960.0 488.3,1957.6 489.0,1955.2 489.8,1952.7 490.5,1950.3 491.3,1948.0 492.0,1945.6 492.8,1943.2 493.5,1940.8 494.3,1938.4 495.1,1936.1 495.9,1933.7 496.7,1931.4 497.6,1929.0 498.4,1926.7 499.3,1924.4 500.2,1922.1 501.1,1919.8 502.1,1917.5 503.1,1915.3 504.1,1913.0 505.1,1910.8 506.2,1908.6 507.2,1906.4 508.3,1904.2 509.5,1902.0 510.6,1899.8 511.8,1897.6 513.0,1895.4 514.2,1893.3 515.5,1891.1 516.8,1888.9 518.1,1886.7 519.4,1884.6 520.7,1882.4 522.1,1880.2 523.5,1878.0 524.9,1875.9 526.4,1873.7 527.9,1871.6 529.5,1869.6 531.1,1867.6 532.7,1865.7 534.5,1863.9 536.3,1862.2 538.1,1860.6 540.1,1859.1 542.1,1857.7 544.2,1856.5 546.4,1855.4 548.7,1854.5 551.1,1853.7 553.5,1853.1 555.9,1852.7 558.4,1852.4 560.9,1852.3 563.4,1852.3 565.9,1852.6 568.4,1853.0 570.8,1853.6 573.2,1854.3 575.5,1855.2 577.7,1856.4 579.8,1857.6 581.8,1859.1 583.8,1860.7 585.6,1862.4 587.4,1864.1 589.2,1866.0 590.8,1867.9 592.5,1869.8 594.1,1871.8 595.6,1873.8 597.1,1875.8 598.5,1877.9 600.0,1879.9 601.3,1882.0 602.7,1884.1 604.0,1886.2 605.3,1888.4 606.5,1890.5 607.8,1892.7 609.0,1894.9 610.1,1897.1 611.3,1899.3 612.4,1901.5 613.5,1903.8 614.6,1906.0 615.7,1908.3 616.8,1910.5 617.9,1912.8 618.9,1915.0 620.0,1917.3 621.0,1919.6 622.1,1921.9 623.1,1924.1 624.2,1926.4 625.2,1928.7 626.2,1931.0 627.3,1933.2 628.3,1935.5 629.4,1937.8 630.4,1940.0 631.5,1942.3 632.5,1944.6 633.5,1946.9 634.6,1949.1 635.6,1951.4 636.7,1953.7 637.7,1955.9 638.8,1958.2 639.8,1960.5 640.8,1962.7 641.9,1965.0 642.9,1967.3 644.0,1969.5 645.0,1971.8 646.0,1974.1 647.1,1976.3 648.1,1978.6 649.2,1980.9 650.2,1983.1 651.2,1985.4 652.3,1987.7 653.3,1989.9 654.3,1992.2 655.4,1994.4 656.4,1996.7 657.4,1999.0 658.5,2001.2 659.5,2003.5 660.6,2005.8 661.6,2008.0 662.6,2010.3 663.7,2012.5 664.7,2014.8 665.7,2017.1 666.8,2019.3 667.8,2021.6 668.8,2023.9 669.8,2026.2 670.8,2028.5 671.9,2030.8 672.9,2033.2 673.9,2035.5 674.9,2037.9 675.9,2040.2 676.9,2042.6 678.0,2044.9 679.1,2047.2 680.3,2049.4 681.6,2051.5 683.0,2053.6 684.5,2055.5 686.1,2057.3 687.8,2059.0 689.7,2060.6 691.6,2062.0 693.7,2063.3 695.8,2064.5 698.0,2065.5 700.3,2066.4 702.7,2067.2 705.1,2067.8 707.5,2068.2 710.0,2068.5 712.6,2068.7 715.1,2068.7 717.6,2068.6 720.2,2068.4 722.7,2068.0 725.2,2067.5 727.6,2067.0 730.1,2066.3 732.5,2065.5 734.9,2064.7 737.3,2063.8 739.7,2063.0 742.1,2062.1 744.5,2061.2 746.8,2060.4 749.2,2059.6 751.6,2058.9 754.0,2058.3 756.4,2057.7 758.8,2057.1 761.2,2056.6 763.7,2056.1 766.1,2055.7 768.5,2055.4 770.9,2055.0 773.4,2054.7 775.8,2054.5 778.3,2054.3 780.7,2054.1 783.2,2053.9 785.6,2053.8 788.1,2053.7 790.6,2053.6 793.0,2053.6 795.5,2053.6 798.0,2053.5 800.5,2053.6 803.0,2053.6 805.5,2053.6 808.0,2053.7 810.5,2053.7 813.0,2053.8 815.5,2053.8 818.0,2053.9 820.5,2054.0 823.0,2054.1 825.5,2054.1 828.0,2054.2 830.5,2054.2 833.1,2054.3 835.6,2054.3 838.1,2054.4 840.7,2054.4 843.2,2054.4 845.7,2054.3 848.2,2054.3 850.8,2054.2 853.3,2054.2 855.8,2054.1 858.4,2054.1 860.9,2054.0 863.4,2053.9 866.0,2053.9 868.5,2053.8 871.0,2053.8 873.5,2053.8 876.0,2053.8 878.5,2053.8 881.0,2053.8 883.5,2053.9 886.0,2054.0 888.4,2054.1 890.9,2054.3 893.4,2054.5 895.8,2054.8 898.2,2055.1 900.6,2055.4 903.1,2055.8 905.5,2056.3 907.8,2056.8 910.2,2057.3 912.6,2058.0 914.9,2058.6 917.2,2059.4 919.5,2060.2 921.9,2061.1 924.1,2062.0 926.4,2063.0 928.7,2064.0 931.0,2065.0 933.2,2066.1 935.5,2067.2 937.7,2068.3 940.0,2069.5 942.2,2070.6 944.4,2071.8 946.7,2073.0 948.9,2074.2 951.2,2075.4 953.4,2076.6 955.6,2077.8 957.9,2079.0 960.1,2080.2 962.4,2081.3 964.6,2082.4 966.9,2083.5 969.2,2084.6 971.4,2085.7 973.7,2086.7 976.0,2087.6 978.3,2088.6 980.6,2089.5 983.0,2090.4 985.3,2091.2 987.6,2092.1 990.0,2092.8 992.3,2093.6 994.7,2094.3 997.1,2095.0 999.5,2095.6 1001.9,2096.2 1004.3,2096.8 1006.7,2097.3 1009.1,2097.8 1011.6,2098.3 1014.0,2098.7 1016.5,2099.1 1018.9,2099.4 1021.4,2099.8 1023.9,2100.1 1026.4,2100.4 1028.8,2100.6 1031.3,2100.8 1033.8,2101.0 1036.3,2101.2 1038.8,2101.4 1041.4,2101.5 1043.9,2101.7 1046.4,2101.8 1048.9,2101.9 1051.4,2102.0 1053.9,2102.0 1056.4,2102.1 1058.9,2102.2 1061.4,2102.2 1063.9,2102.3 1066.4,2102.3 1069.0,2102.4 1071.5,2102.4 1074.0,2102.5 1076.5,2102.5 1079.0,2102.5 1081.4,2102.6 1083.9,2102.6 1086.4,2102.6 1088.9,2102.6 1091.4,2102.6 1093.9,2102.6 1096.4,2102.7 1098.9,2102.7 1101.4,2102.7 1103.9,2102.7 1106.4,2102.7 1108.9,2102.7 1111.4,2102.8 1113.9,2102.8 1116.4,2102.8 1118.9,2102.8 1121.4,2102.8 1123.9,2102.8 1126.4,2102.9 1128.8,2102.9 1131.3,2102.9 1133.8,2102.9 1136.3,2102.9 1138.8,2102.9 1141.3,2103.0 1143.8,2103.0 1146.3,2103.0 1148.8,2103.0 1151.3,2103.0 1153.8,2103.0 1156.3,2103.1 1158.8,2103.1 1161.3,2103.1 1163.8,2103.1 1166.3,2103.1 1168.8,2103.2 1171.3,2103.2 1173.8,2103.2 1176.3,2103.2 1178.8,2103.2 1181.3,2103.3 1183.7,2103.3 1186.2,2103.3 1188.7,2103.3 1191.2,2103.3 1193.7,2103.3 1196.2,2103.4 1198.7,2103.4 1201.2,2103.4 1203.7,2103.4 1206.2,2103.4 1208.7,2103.5 1211.2,2103.5 1213.7,2103.5 1216.2,2103.5 1218.7,2103.5 1221.2,2103.6 1223.7,2103.6 1226.2,2103.6 1228.7,2103.6 1231.2,2103.6 1233.7,2103.7 1236.2,2103.7 1238.7,2103.7 1241.2,2103.7 1243.7,2103.7 1246.2,2103.8 1248.7,2103.8 1251.2,2103.8 1253.6,2103.8 1256.1,2103.9 1258.6,2103.9 1261.1,2103.9 1263.6,2103.9 1266.1,2103.9 1268.6,2104.0 1271.1,2104.0 1273.6,2104.0 1276.1,2104.0 1278.6,2104.0 1281.1,2104.1 1283.6,2104.1 1286.1,2104.1 1288.6,2104.1 1291.1,2104.1 1293.6,2104.2 1296.1,2104.2 1298.6,2104.2 1301.1,2104.2 1303.6,2104.3 1306.1,2104.3 1308.6,2104.3 1311.1,2104.3 1313.6,2104.3 1316.1,2104.4 1318.6,2104.4 1321.1,2104.4 1323.6,2104.4 1326.1,2104.4 1328.6,2104.5 1331.1,2104.5 1333.6,2104.5 1336.1,2104.5 1338.6,2104.6 1341.1,2104.6 1343.6,2104.6 1346.1,2104.6 1348.5,2104.6 1351.0,2104.7 1353.5,2104.7 1356.0,2104.7 1358.5,2104.7 1361.0,2104.8 1363.5,2104.8 1366.0,2104.8 1368.5,2104.8 1371.0,2104.8 1373.5,2104.9 1376.0,2104.9 1378.5,2104.9 1381.0,2104.9 1383.5,2104.9 1386.0,2105.0 1388.5,2105.0 1391.0,2105.0 1393.5,2105.0 1396.0,2105.0 1398.5,2105.1 1401.0,2105.1 1403.5,2105.1 1406.0,2105.1 1408.5,2105.2 1411.0,2105.2 1413.5,2105.2 1416.0,2105.2 1418.5,2105.2 1421.0,2105.3 1423.5,2105.3 1426.0,2105.3 1428.5,2105.3 1431.0,2105.3 1433.5,2105.4 1436.0,2105.4 1438.5,2105.4 1441.0,2105.4 1443.5,2105.4 1446.0,2105.5 1448.5,2105.5 1451.0,2105.5 1453.5,2105.5 1456.0,2105.5 1458.5,2105.6 1461.0,2105.6 1463.5,2105.6 1466.0,2105.6 1468.5,2105.6 1471.0,2105.7 1473.5,2105.7 1476.0,2105.7 1478.5,2105.7 1481.0,2105.7 1483.5,2105.8 1486.0,2105.8 1488.5,2105.8 1490.9,2105.8 1493.4,2105.8 1495.9,2105.9 1498.4,2105.9 1500.9,2105.9 1503.4,2105.9 1505.9,2105.9 1508.4,2106.0 1510.9,2106.0 1513.4,2106.0 1515.9,2106.0 1518.4,2106.0 1520.9,2106.0 1523.4,2106.1 1525.9,2106.1 1528.4,2106.1 1530.9,2106.1 1533.4,2106.1 1535.9,2106.2 1538.4,2106.2 1540.9,2106.2 1543.4,2106.2 1545.9,2106.2 1548.4,2106.2 1550.9,2106.3 1553.4,2106.3 1555.9,2106.3 1558.4,2106.3 1560.9,2106.3 1563.4,2106.3 1565.9,2106.4 1568.4,2106.4 1570.9,2106.4 1573.4,2106.4 1575.9,2106.4 1578.4,2106.4 1580.9,2106.5 1583.4,2106.5 1585.9,2106.5 1588.4,2106.5 1590.9,2106.5 1593.4,2106.5 1595.9,2106.5 1598.4,2106.6 1600.9,2106.6 1603.4,2106.6 1605.9,2106.6 1608.4,2106.6 1610.9,2106.6 1613.4,2106.6 1615.9,2106.7 1618.4,2106.7 1620.9,2106.7 1623.4,2106.7 1625.9,2106.7 1628.4,2106.7 1630.9,2106.7 1633.4,2106.7 1635.9,2106.8 1638.3,2106.8 1640.8,2106.8 1643.3,2106.8 1645.8,2106.8 1648.3,2106.8 1650.8,2106.8 1653.3,2106.8 1655.8,2106.9 1658.3,2106.9 1660.8,2106.9 1663.3,2106.9 1665.8,2106.9 1668.3,2106.9 1670.8,2106.9 1673.3,2106.9 1675.8,2106.9 1678.3,2106.9 1680.8,2107.0 1683.3,2107.0 1685.8,2107.0 1688.3,2107.0 1690.8,2107.0 1693.3,2107.0 1695.8,2107.0 1698.3,2107.0 1700.8,2107.0 1703.3,2107.0 1705.8,2107.0 1708.3,2107.1 1710.8,2107.1 1713.3,2107.1 1715.8,2107.1 1718.3,2107.1 1720.8,2107.1 1723.3,2107.1 1725.8,2107.1 1728.3,2107.1 1730.8,2107.1 1733.3,2107.1 1735.8,2107.1 1738.2,2107.1 1740.7,2107.1 1743.2,2107.1 1745.7,2107.1 1748.2,2107.1 1750.7,2107.1 1753.2,2107.2 1755.7,2107.2 1758.2,2107.2 1760.7,2107.2 1763.2,2107.2 1765.7,2107.2 1768.2,2107.2 1770.7,2107.2 1773.2,2107.2 1775.7,2107.2 1778.2,2107.2 1780.7,2107.2 1783.2,2107.2 1785.7,2107.2 1788.2,2107.2 1790.7,2107.2 1793.2,2107.2 1795.7,2107.2 1798.2,2107.2 1800.7,2107.2 1803.2,2107.2 1805.7,2107.2 1808.2,2107.2 1810.6,2107.2 1813.1,2107.2 1815.6,2107.2 1818.1,2107.2 1820.6,2107.2 1823.1,2107.2 1825.6,2107.2 1828.1,2107.2 1830.6,2107.2 1833.1,2107.2 1835.6,2107.1 1838.1,2107.1 1840.6,2107.1 1843.1,2107.1 1845.6,2107.1 1848.1,2107.1 1850.6,2107.1 1853.1,2107.1 1855.6,2107.1 1858.1,2107.1 1860.6,2107.1 1863.1,2107.1 1865.5,2107.1 1868.0,2107.1 1870.5,2107.1 1873.0,2107.1 1875.5,2107.0 1878.0,2107.0 1880.5,2107.0 1883.0,2107.0 1885.5,2107.0 1888.0,2107.0"/>
<path id="c4" d="M333.0,2097.5L335.5,2097.4 337.9,2097.4 340.4,2097.3 342.9,2097.2 345.3,2097.1 347.8,2096.9 350.3,2096.8 352.8,2096.7 355.3,2096.5 357.8,2096.4 360.2,2096.2 362.7,2096.0 365.2,2095.8 367.7,2095.6 370.2,2095.4 372.7,2095.2 375.2,2094.9 377.7,2094.7 380.2,2094.4 382.7,2094.1 385.2,2093.8 387.7,2093.5 390.2,2093.2 392.7,2092.9 395.2,2092.5 397.6,2092.2 400.1,2091.8 402.6,2091.4 405.1,2091.0 407.6,2090.6 410.0,2090.1 412.5,2089.7 415.0,2089.2 417.4,2088.7 419.9,2088.2 422.3,2087.7 424.8,2087.2 427.2,2086.6 429.7,2086.0 432.1,2085.4 434.5,2084.8 437.0,2084.2 439.4,2083.6 441.8,2082.9 444.2,2082.2 446.6,2081.5 449.0,2080.8 451.4,2080.1 453.7,2079.3 456.1,2078.5 458.5,2077.7 460.8,2076.9 463.1,2076.1 465.5,2075.2 467.8,2074.3 470.1,2073.4 472.4,2072.5 474.7,2071.6 477.0,2070.6 479.3,2069.6 481.5,2068.6 483.8,2067.6 486.0,2066.5 488.2,2065.4 490.5,2064.3 492.7,2063.2 494.9,2062.1 497.1,2060.9 499.2,2059.7 501.4,2058.6 503.6,2057.3 505.8,2056.1 507.9,2054.9 510.1,2053.7 512.3,2052.4 514.4,2051.2 516.6,2049.9 518.8,2048.6 520.9,2047.4 523.1,2046.1 525.3,2044.8 527.5,2043.6 529.7,2042.3 531.9,2041.0 534.1,2039.7 536.3,2038.5 538.5,2037.2 540.7,2036.0 543.0,2034.7 545.2,2033.5 547.5,2032.3 549.8,2031.2 552.0,2030.1 554.3,2029.0 556.6,2028.0 559.0,2027.1 561.3,2026.3 563.6,2025.5 565.9,2024.8 568.3,2024.3 570.7,2023.8 573.0,2023.5 575.4,2023.2 577.8,2023.1 580.2,2023.2 582.6,2023.4 585.0,2023.7 587.4,2024.2 589.8,2024.7 592.2,2025.4 594.6,2026.2 597.0,2027.1 599.4,2028.1 601.8,2029.1 604.2,2030.2 606.5,2031.3 608.8,2032.5 611.2,2033.7 613.4,2034.9 615.7,2036.1 617.9,2037.3 620.1,2038.6 622.3,2039.8 624.5,2041.0 626.6,2042.3 628.8,2043.5 630.9,2044.7 633.1,2045.9 635.2,2047.1 637.3,2048.3 639.4,2049.5 641.6,2050.6 643.7,2051.8 645.9,2052.9 648.1,2054.0 650.3,2055.1 652.5,2056.1 654.7,2057.1 657.0,2058.1 659.3,2059.1 661.6,2060.0 664.0,2060.9 666.4,2061.8 668.8,2062.7 671.2,2063.6 673.7,2064.4 676.2,2065.2 678.7,2066.0 681.2,2066.7 683.7,2067.2 686.2,2067.7 688.7,2068.1 691.2,2068.4 693.7,2068.5 696.1,2068.4 698.5,2068.2 700.8,2067.9 703.2,2067.4 705.5,2066.9 707.8,2066.3 710.1,2065.6 712.4,2064.8 714.7,2064.0 717.0,2063.1 719.3,2062.2 721.6,2061.3 723.9,2060.4 726.2,2059.5 728.6,2058.6 730.9,2057.7 733.3,2056.8 735.6,2055.9 738.0,2055.0 740.4,2054.1 742.8,2053.2 745.2,2052.3 747.5,2051.4 749.9,2050.4 752.3,2049.5 754.7,2048.5 757.1,2047.6 759.4,2046.6 761.8,2045.6 764.1,2044.6 766.5,2043.6 768.8,2042.5 771.1,2041.5 773.4,2040.4 775.7,2039.3 777.9,2038.1 780.2,2037.0 782.4,2035.8 784.6,2034.6 786.8,2033.4 788.9,2032.1 791.1,2030.8 793.1,2029.5 795.2,2028.1 797.2,2026.7 799.2,2025.3 801.2,2023.8 803.1,2022.3 805.0,2020.8 806.9,2019.2 808.7,2017.5 810.5,2015.9 812.2,2014.2 813.9,2012.4 815.6,2010.6 817.2,2008.7 818.7,2006.8 820.3,2004.9 821.7,2002.9 823.2,2000.9 824.6,1998.9 825.9,1996.8 827.3,1994.7 828.6,1992.6 829.8,1990.4 831.0,1988.2 832.2,1986.0 833.4,1983.8 834.5,1981.5 835.5,1979.2 836.6,1976.9 837.6,1974.6 838.6,1972.3 839.6,1969.9 840.5,1967.6 841.4,1965.2 842.3,1962.8 843.1,1960.4 843.9,1958.0 844.7,1955.6 845.5,1953.2 846.2,1950.8 846.9,1948.4 847.6,1946.0 848.3,1943.6 849.0,1941.2 849.6,1938.8 850.2,1936.4 850.8,1934.0 851.4,1931.6 852.0,1929.2 852.5,1926.8 853.1,1924.4 853.6,1922.0 854.2,1919.6 854.7,1917.2 855.2,1914.8 855.8,1912.4 856.3,1909.9 856.8,1907.5 857.3,1905.1 857.8,1902.7 858.4,1900.2 858.9,1897.8 859.4,1895.3 859.9,1892.9 860.5,1890.4 861.0,1888.0 861.5,1885.5 862.1,1883.1 862.6,1880.6 863.1,1878.2 863.6,1875.7 864.2,1873.2 864.7,1870.8 865.2,1868.3 865.7,1865.8 866.2,1863.4 866.7,1860.9 867.3,1858.5 867.8,1856.0 868.3,1853.5 868.7,1851.1 869.2,1848.6 869.7,1846.2 870.2,1843.7 870.7,1841.3 871.1,1838.8 871.6,1836.4 872.1,1833.9 872.5,1831.5 873.0,1829.1 873.4,1826.6 873.9,1824.2 874.3,1821.7 874.8,1819.3 875.2,1816.9 875.7,1814.4 876.1,1812.0 876.6,1809.5 877.0,1807.1 877.4,1804.7 877.9,1802.2 878.3,1799.8 878.8,1797.3 879.2,1794.9 879.6,1792.5 880.1,1790.0 880.5,1787.6 881.0,1785.1 881.4,1782.7 881.9,1780.2 882.3,1777.8 882.8,1775.3 883.2,1772.8 883.7,1770.4 884.2,1767.9 884.6,1765.4 885.1,1763.0 885.6,1760.5 886.1,1758.0 886.5,1755.5 887.0,1753.0 887.5,1750.5 888.0,1748.0 888.5,1745.5 889.1,1743.0 889.6,1740.5 890.1,1738.0 890.7,1735.5 891.3,1733.0 891.9,1730.6 892.6,1728.2 893.4,1725.8 894.2,1723.4 895.1,1721.1 896.1,1718.9 897.3,1716.7 898.5,1714.6 899.8,1712.6 901.3,1710.7 902.8,1708.9 904.6,1707.2 906.5,1705.6 908.6,1704.5 910.8,1704.1 913.1,1704.6 915.3,1705.7 917.2,1707.3 918.8,1709.3 920.0,1711.5 920.9,1714.0 921.8,1716.6 922.5,1719.3 923.1,1721.9 923.8,1724.4 924.4,1726.9 925.1,1729.4 925.7,1731.8 926.2,1734.2 926.8,1736.6 927.3,1739.0 927.9,1741.4 928.4,1743.8 928.9,1746.2 929.3,1748.6 929.8,1751.0 930.3,1753.4 930.7,1755.8 931.1,1758.3 931.5,1760.7 931.9,1763.1 932.3,1765.6 932.7,1768.1 933.0,1770.5 933.4,1773.0 933.7,1775.5 934.1,1777.9 934.4,1780.4 934.8,1782.9 935.1,1785.4 935.4,1787.9 935.8,1790.3 936.1,1792.8 936.4,1795.3 936.8,1797.8 937.1,1800.3 937.4,1802.8 937.8,1805.3 938.1,1807.8 938.4,1810.2 938.8,1812.7 939.1,1815.2 939.5,1817.7 939.8,1820.2 940.2,1822.6 940.6,1825.1 940.9,1827.6 941.3,1830.1 941.7,1832.5 942.0,1835.0 942.4,1837.5 942.8,1840.0 943.1,1842.4 943.5,1844.9 943.9,1847.4 944.3,1849.8 944.6,1852.3 945.0,1854.8 945.4,1857.2 945.8,1859.7 946.2,1862.2 946.5,1864.6 946.9,1867.1 947.3,1869.6 947.7,1872.0 948.1,1874.5 948.4,1877.0 948.8,1879.4 949.2,1881.9 949.6,1884.4 949.9,1886.8 950.3,1889.3 950.7,1891.8 951.1,1894.2 951.5,1896.7 951.8,1899.2 952.2,1901.6 952.6,1904.1 952.9,1906.6 953.3,1909.0 953.7,1911.5 954.0,1914.0 954.4,1916.4 954.7,1918.9 955.1,1921.4 955.5,1923.8 955.8,1926.3 956.2,1928.8 956.5,1931.2 956.9,1933.7 957.2,1936.2 957.5,1938.6 957.9,1941.1 958.2,1943.6 958.6,1946.1 958.9,1948.5 959.3,1951.0 959.6,1953.5 959.9,1956.0 960.3,1958.4 960.6,1960.9 961.0,1963.4 961.3,1965.9 961.6,1968.3 962.0,1970.8 962.3,1973.3 962.6,1975.8 963.0,1978.2 963.3,1980.7 963.6,1983.2 964.0,1985.7 964.3,1988.1 964.6,1990.6 965.0,1993.1 965.3,1995.6 965.6,1998.1 966.0,2000.5 966.3,2003.0 966.7,2005.5 967.0,2008.0 967.3,2010.5 967.7,2012.9 968.0,2015.4 968.4,2017.9 968.7,2020.4 969.1,2022.9 969.5,2025.3 969.8,2027.8 970.2,2030.3 970.6,2032.7 971.0,2035.2 971.5,2037.7 971.9,2040.1 972.3,2042.6 972.8,2045.0 973.3,2047.5 973.8,2049.9 974.3,2052.4 974.8,2054.8 975.4,2057.2 976.0,2059.6 976.6,2062.1 977.2,2064.5 977.8,2066.9 978.5,2069.3 979.2,2071.6 979.9,2074.0 980.7,2076.4 981.5,2078.7 982.3,2081.1 983.1,2083.4 984.0,2085.8 984.9,2088.1 985.8,2090.4 986.8,2092.7 987.8,2095.0 988.8,2097.3 989.9,2099.6 991.1,2101.8 992.2,2104.1 993.4,2106.3 994.7,2108.5 995.9,2110.6 997.3,2112.8 998.7,2114.9 1000.1,2117.0 1001.5,2119.1 1003.1,2121.1 1004.8,2123.0 1006.6,2124.6 1008.6,2126.0 1010.8,2127.0 1013.2,2127.7 1015.7,2128.1 1018.2,2128.3 1020.7,2128.1 1023.1,2127.7 1025.6,2127.2 1028.0,2126.6 1030.4,2125.8 1032.8,2125.1 1035.2,2124.4 1037.6,2123.6 1040.0,2122.9 1042.4,2122.2 1044.8,2121.5 1047.3,2120.8 1049.7,2120.2 1052.1,2119.6 1054.6,2118.9 1057.0,2118.4 1059.5,2117.8 1061.9,2117.3 1064.4,2116.8 1066.8,2116.3 1069.3,2115.9 1071.7,2115.4 1074.2,2115.0 1076.6,2114.7 1079.1,2114.3 1081.6,2114.0 1084.1,2113.6 1086.5,2113.4 1089.0,2113.1 1091.5,2112.8 1094.0,2112.6 1096.4,2112.4 1098.9,2112.1 1101.4,2111.9 1103.9,2111.8 1106.4,2111.6 1108.9,2111.4 1111.4,2111.3 1113.9,2111.2 1116.4,2111.0 1118.8,2110.9 1121.3,2110.8 1123.8,2110.7 1126.3,2110.6 1128.8,2110.5 1131.3,2110.4 1133.8,2110.4 1136.3,2110.3 1138.8,2110.2 1141.3,2110.1 1143.8,2110.1 1146.3,2110.0 1148.8,2109.9 1151.3,2109.9 1153.8,2109.8 1156.3,2109.7 1158.8,2109.7 1161.3,2109.6 1163.8,2109.5 1166.3,2109.5 1168.8,2109.4 1171.3,2109.4 1173.8,2109.3 1176.3,2109.2 1178.8,2109.2 1181.3,2109.1 1183.8,2109.1 1186.3,2109.0 1188.8,2109.0 1191.3,2108.9 1193.8,2108.8 1196.3,2108.8 1198.8,2108.7 1201.3,2108.7 1203.8,2108.7 1206.2,2108.6 1208.7,2108.6 1211.2,2108.5 1213.7,2108.5 1216.2,2108.4 1218.7,2108.4 1221.2,2108.3 1223.7,2108.3 1226.2,2108.3 1228.7,2108.2 1231.2,2108.2 1233.7,2108.1 1236.2,2108.1 1238.7,2108.1 1241.2,2108.0 1243.7,2108.0 1246.2,2108.0 1248.7,2107.9 1251.2,2107.9 1253.7,2107.9 1256.2,2107.8 1258.7,2107.8 1261.2,2107.8 1263.7,2107.7 1266.2,2107.7 1268.7,2107.7 1271.2,2107.7 1273.7,2107.6 1276.2,2107.6 1278.7,2107.6 1281.2,2107.6 1283.7,2107.5 1286.2,2107.5 1288.7,2107.5 1291.2,2107.5 1293.7,2107.5 1296.2,2107.4 1298.6,2107.4 1301.1,2107.4 1303.6,2107.4 1306.1,2107.4 1308.6,2107.4 1311.1,2107.3 1313.6,2107.3 1316.1,2107.3 1318.6,2107.3 1321.1,2107.3 1323.6,2107.3 1326.1,2107.3 1328.6,2107.3 1331.1,2107.2 1333.6,2107.2 1336.1,2107.2 1338.6,2107.2 1341.1,2107.2 1343.6,2107.2 1346.1,2107.2 1348.6,2107.2 1351.1,2107.2 1353.6,2107.2 1356.1,2107.2 1358.6,2107.2 1361.1,2107.2 1363.6,2107.2 1366.1,2107.2 1368.6,2107.2 1371.1,2107.2 1373.6,2107.2 1376.1,2107.2 1378.6,2107.2 1381.1,2107.2 1383.6,2107.2 1386.0,2107.2 1388.5,2107.2 1391.0,2107.2 1393.5,2107.2 1396.0,2107.2 1398.5,2107.2 1401.0,2107.2 1403.5,2107.2 1406.0,2107.2 1408.5,2107.2 1411.0,2107.2 1413.5,2107.2 1416.0,2107.2 1418.5,2107.2 1421.0,2107.2 1423.5,2107.2 1426.0,2107.2 1428.5,2107.2 1431.0,2107.2 1433.5,2107.2 1436.0,2107.3 1438.5,2107.3 1441.0,2107.3 1443.5,2107.3 1446.0,2107.3 1448.5,2107.3 1451.0,2107.3 1453.5,2107.3 1456.0,2107.3 1458.5,2107.3 1461.0,2107.4 1463.5,2107.4 1466.0,2107.4 1468.5,2107.4 1471.0,2107.4 1473.4,2107.4 1475.9,2107.4 1478.4,2107.4 1480.9,2107.5 1483.4,2107.5 1485.9,2107.5 1488.4,2107.5 1490.9,2107.5 1493.4,2107.5 1495.9,2107.5 1498.4,2107.5 1500.9,2107.6 1503.4,2107.6 1505.9,2107.6 1508.4,2107.6 1510.9,2107.6 1513.4,2107.6 1515.9,2107.7 1518.4,2107.7 1520.9,2107.7 1523.4,2107.7 1525.9,2107.7 1528.4,2107.7 1530.9,2107.7 1533.4,2107.8 1535.9,2107.8 1538.4,2107.8 1540.9,2107.8 1543.4,2107.8 1545.9,2107.8 1548.4,2107.9 1550.9,2107.9 1553.4,2107.9 1555.9,2107.9 1558.3,2107.9 1560.8,2107.9 1563.3,2108.0 1565.8,2108.0 1568.3,2108.0 1570.8,2108.0 1573.3,2108.0 1575.8,2108.0 1578.3,2108.0 1580.8,2108.1 1583.3,2108.1 1585.8,2108.1 1588.3,2108.1 1590.8,2108.1 1593.3,2108.1 1595.8,2108.2 1598.3,2108.2 1600.8,2108.2 1603.3,2108.2 1605.8,2108.2 1608.3,2108.2 1610.8,2108.2 1613.3,2108.3 1615.8,2108.3 1618.3,2108.3 1620.8,2108.3 1623.3,2108.3 1625.8,2108.3 1628.3,2108.3 1630.8,2108.4 1633.3,2108.4 1635.8,2108.4 1638.3,2108.4 1640.8,2108.4 1643.3,2108.4 1645.7,2108.4 1648.2,2108.4 1650.7,2108.4 1653.2,2108.5 1655.7,2108.5 1658.2,2108.5 1660.7,2108.5 1663.2,2108.5 1665.7,2108.5 1668.2,2108.5 1670.7,2108.5 1673.2,2108.5 1675.7,2108.5 1678.2,2108.6 1680.7,2108.6 1683.2,2108.6 1685.7,2108.6 1688.2,2108.6 1690.7,2108.6 1693.2,2108.6 1695.7,2108.6 1698.2,2108.6 1700.7,2108.6 1703.2,2108.6 1705.7,2108.6 1708.2,2108.6 1710.7,2108.6 1713.2,2108.6 1715.7,2108.6 1718.2,2108.6 1720.7,2108.6 1723.2,2108.6 1725.7,2108.6 1728.2,2108.6 1730.7,2108.7 1733.2,2108.7 1735.7,2108.6 1738.1,2108.6 1740.6,2108.6 1743.1,2108.6 1745.6,2108.6 1748.1,2108.6 1750.6,2108.6 1753.1,2108.6 1755.6,2108.6 1758.1,2108.6 1760.6,2108.6 1763.1,2108.6 1765.6,2108.6 1768.1,2108.6 1770.6,2108.6 1773.1,2108.6 1775.6,2108.6 1778.1,2108.6 1780.6,2108.6 1783.1,2108.5 1785.6,2108.5 1788.1,2108.5 1790.6,2108.5 1793.1,2108.5 1795.6,2108.5 1798.1,2108.5 1800.6,2108.5 1803.1,2108.4 1805.6,2108.4 1808.1,2108.4 1810.6,2108.4 1813.1,2108.4 1815.6,2108.4 1818.1,2108.3 1820.6,2108.3 1823.1,2108.3 1825.6,2108.3 1828.1,2108.3 1830.6,2108.2 1833.1,2108.2 1835.5,2108.2 1838.0,2108.2 1840.5,2108.1 1843.0,2108.1 1845.5,2108.1 1848.0,2108.0 1850.5,2108.0 1853.0,2108.0 1855.5,2108.0 1858.0,2107.9 1860.5,2107.9 1863.0,2107.9 1865.5,2107.8 1868.0,2107.8 1870.5,2107.8 1873.0,2107.7 1875.5,2107.7 1878.0,2107.7 1880.5,2107.6 1883.0,2107.6 1885.5,2107.5 1888.0,2107.5"/>
<path id="c5" d="M333.0,2509.5L335.4,2508.8 337.9,2508.1 340.3,2507.4 342.7,2506.8 345.1,2506.2 347.6,2505.7 350.0,2505.1 352.4,2504.6 354.9,2504.1 357.3,2503.7 359.8,2503.2 362.2,2502.8 364.7,2502.4 367.1,2502.1 369.6,2501.7 372.1,2501.4 374.5,2501.0 377.0,2500.7 379.5,2500.4 382.0,2500.2 384.5,2499.9 387.0,2499.6 389.5,2499.4 392.1,2499.1 394.6,2498.9 397.1,2498.6 399.6,2498.3 402.1,2497.9 404.6,2497.5 407.0,2496.9 409.4,2496.3 411.8,2495.6 414.1,2494.7 416.4,2493.7 418.6,2492.5 420.7,2491.3 422.8,2489.9 424.9,2488.4 426.9,2486.8 428.8,2485.2 430.6,2483.4 432.4,2481.7 434.2,2479.9 435.9,2478.0 437.5,2476.2 439.1,2474.2 440.6,2472.3 442.1,2470.3 443.6,2468.2 444.9,2466.2 446.3,2464.1 447.6,2462.0 448.9,2459.8 450.1,2457.7 451.3,2455.5 452.5,2453.3 453.6,2451.0 454.8,2448.8 455.8,2446.5 456.9,2444.2 458.0,2442.0 459.0,2439.7 460.0,2437.3 461.0,2435.0 462.0,2432.7 462.9,2430.4 463.9,2428.1 464.8,2425.7 465.8,2423.4 466.7,2421.1 467.6,2418.7 468.5,2416.4 469.4,2414.1 470.3,2411.7 471.2,2409.4 472.1,2407.1 473.0,2404.7 473.9,2402.4 474.7,2400.1 475.6,2397.7 476.5,2395.4 477.3,2393.1 478.2,2390.7 479.1,2388.4 479.9,2386.1 480.8,2383.7 481.7,2381.4 482.6,2379.1 483.5,2376.8 484.4,2374.5 485.3,2372.2 486.2,2369.9 487.2,2367.6 488.2,2365.3 489.1,2363.0 490.2,2360.7 491.2,2358.4 492.2,2356.2 493.3,2353.9 494.4,2351.7 495.6,2349.4 496.7,2347.2 497.9,2345.0 499.1,2342.7 500.4,2340.5 501.7,2338.3 503.0,2336.2 504.4,2334.0 505.8,2331.8 507.3,2329.7 508.9,2327.7 510.6,2325.8 512.4,2324.1 514.3,2322.5 516.4,2321.2 518.7,2320.0 521.1,2319.1 523.6,2318.5 526.1,2318.1 528.7,2318.1 531.1,2318.3 533.4,2318.8 535.6,2319.6 537.7,2320.6 539.7,2321.8 541.6,2323.3 543.4,2324.9 545.2,2326.7 546.8,2328.7 548.3,2330.8 549.8,2332.9 551.1,2335.2 552.4,2337.6 553.6,2339.9 554.7,2342.3 555.8,2344.7 556.8,2347.1 557.7,2349.5 558.5,2351.9 559.3,2354.3 560.1,2356.7 560.8,2359.1 561.5,2361.5 562.2,2363.8 562.8,2366.2 563.4,2368.6 564.0,2371.0 564.5,2373.4 565.1,2375.8 565.7,2378.2 566.2,2380.6 566.8,2383.0 567.4,2385.4 567.9,2387.8 568.5,2390.2 569.0,2392.6 569.6,2395.0 570.1,2397.4 570.7,2399.9 571.2,2402.3 571.8,2404.7 572.3,2407.2 572.8,2409.6 573.4,2412.0 573.9,2414.5 574.4,2416.9 575.0,2419.4 575.5,2421.8 576.0,2424.3 576.5,2426.7 577.1,2429.2 577.6,2431.6 578.1,2434.1 578.6,2436.5 579.1,2439.0 579.6,2441.4 580.1,2443.9 580.6,2446.4 581.1,2448.8 581.6,2451.3 582.1,2453.8 582.6,2456.2 583.1,2458.7 583.6,2461.2 584.1,2463.6 584.6,2466.1 585.1,2468.6 585.5,2471.0 586.0,2473.5 586.5,2476.0 587.0,2478.4 587.4,2480.9 587.9,2483.4 588.4,2485.9 588.8,2488.3 589.3,2490.8 589.7,2493.3 590.2,2495.7 590.7,2498.2 591.1,2500.7 591.5,2503.1 592.0,2505.6 592.4,2508.0 592.9,2510.5 593.3,2513.0 593.7,2515.4 594.2,2517.9 594.6,2520.3 595.0,2522.8 595.5,2525.2 595.9,2527.7 596.3,2530.1 596.7,2532.6 597.1,2535.0 597.5,2537.5 597.9,2539.9 598.4,2542.4 598.8,2544.8 599.2,2547.2 599.6,2549.7 600.0,2552.1 600.4,2554.5 600.8,2556.9 601.2,2559.4 601.6,2561.8 602.0,2564.2 602.4,2566.6 602.8,2569.1 603.2,2571.5 603.6,2573.9 604.1,2576.4 604.5,2578.8 605.0,2581.3 605.4,2583.7 605.9,2586.1 606.3,2588.6 606.8,2591.0 607.3,2593.5 607.8,2596.0 608.3,2598.4 608.9,2600.9 609.4,2603.4 610.0,2605.9 610.6,2608.4 611.1,2610.9 611.8,2613.4 612.4,2615.9 613.0,2618.4 613.7,2620.9 614.4,2623.5 615.1,2626.0 615.8,2628.6 616.5,2631.1 617.3,2633.7 618.2,2636.2 619.1,2638.6 620.1,2641.0 621.3,2643.2 622.6,2645.3 624.1,2647.2 625.8,2649.0 627.6,2650.4 629.6,2651.6 631.6,2652.3 633.6,2652.4 635.6,2651.9 637.4,2650.9 639.2,2649.4 640.9,2647.6 642.5,2645.7 644.0,2643.7 645.4,2641.6 646.7,2639.5 647.9,2637.3 649.1,2635.0 650.2,2632.8 651.3,2630.5 652.3,2628.1 653.3,2625.7 654.2,2623.3 655.1,2620.9 655.9,2618.5 656.8,2616.1 657.6,2613.6 658.4,2611.2 659.2,2608.8 660.1,2606.3 660.9,2603.9 661.7,2601.5 662.6,2599.2 663.5,2596.8 664.5,2594.5 665.4,2592.3 666.5,2590.0 667.5,2587.8 668.6,2585.6 669.7,2583.5 670.8,2581.3 672.0,2579.1 673.1,2576.9 674.2,2574.7 675.4,2572.5 676.5,2570.2 677.6,2567.9 678.6,2565.6 679.8,2563.3 681.0,2561.0 682.2,2558.7 683.6,2556.6 685.1,2554.6 686.7,2552.7 688.6,2551.0 690.6,2549.4 692.7,2548.1 695.0,2547.0 697.4,2546.2 699.9,2545.6 702.3,2545.4 704.8,2545.4 707.3,2545.7 709.7,2546.3 712.1,2547.1 714.5,2548.1 716.8,2549.3 719.0,2550.5 721.2,2551.9 723.3,2553.3 725.4,2554.8 727.4,2556.3 729.3,2557.8 731.3,2559.3 733.2,2560.9 735.2,2562.4 737.2,2563.9 739.2,2565.4 741.2,2566.8 743.3,2568.2 745.4,2569.5 747.6,2570.8 749.8,2572.0 752.0,2573.2 754.3,2574.3 756.6,2575.4 759.0,2576.3 761.3,2577.2 763.7,2578.0 766.1,2578.7 768.5,2579.3 771.0,2579.9 773.4,2580.3 775.9,2580.6 778.4,2580.9 780.9,2581.0 783.4,2581.0 785.9,2580.9 788.4,2580.7 790.9,2580.3 793.4,2579.9 795.8,2579.4 798.3,2578.7 800.7,2578.0 803.0,2577.1 805.4,2576.2 807.6,2575.2 809.9,2574.0 812.1,2572.8 814.2,2571.5 816.3,2570.0 818.2,2568.5 820.2,2566.9 822.0,2565.2 823.8,2563.5 825.5,2561.6 827.1,2559.7 828.7,2557.7 830.2,2555.7 831.7,2553.6 833.1,2551.5 834.5,2549.4 835.8,2547.3 837.1,2545.1 838.4,2542.9 839.6,2540.8 840.8,2538.6 842.0,2536.3 843.1,2534.1 844.2,2531.9 845.3,2529.6 846.4,2527.4 847.4,2525.1 848.4,2522.8 849.3,2520.5 850.3,2518.2 851.2,2515.9 852.1,2513.6 852.9,2511.2 853.8,2508.9 854.6,2506.5 855.4,2504.2 856.2,2501.8 857.0,2499.5 857.7,2497.1 858.5,2494.7 859.2,2492.3 859.9,2489.9 860.6,2487.5 861.3,2485.1 861.9,2482.7 862.6,2480.3 863.2,2477.9 863.8,2475.4 864.5,2473.0 865.1,2470.6 865.7,2468.2 866.3,2465.7 866.9,2463.3 867.5,2460.9 868.1,2458.4 868.7,2456.0 869.3,2453.6 869.9,2451.1 870.5,2448.7 871.1,2446.2 871.7,2443.8 872.2,2441.4 872.9,2438.9 873.5,2436.5 874.1,2434.1 874.7,2431.7 875.3,2429.2 875.9,2426.8 876.6,2424.4 877.2,2422.0 877.9,2419.6 878.6,2417.2 879.3,2414.8 880.0,2412.4 880.7,2410.0 881.4,2407.6 882.2,2405.3 883.0,2402.9 883.8,2400.6 884.6,2398.2 885.5,2395.9 886.4,2393.6 887.3,2391.2 888.3,2388.9 889.3,2386.7 890.3,2384.4 891.4,2382.1 892.5,2379.8 893.7,2377.6 894.9,2375.4 896.2,2373.2 897.5,2371.0 898.9,2368.8 900.3,2366.6 901.8,2364.5 903.4,2362.5 905.1,2360.6 906.9,2359.0 908.9,2357.6 911.1,2356.5 913.4,2355.9 915.8,2355.6 918.2,2355.7 920.5,2356.2 922.8,2357.1 925.0,2358.3 927.1,2359.7 929.1,2361.4 931.0,2363.1 932.8,2364.9 934.6,2366.8 936.2,2368.7 937.8,2370.7 939.2,2372.7 940.6,2374.8 942.0,2377.0 943.3,2379.1 944.5,2381.3 945.7,2383.5 946.8,2385.8 947.9,2388.1 948.9,2390.4 950.0,2392.7 951.0,2395.0 952.0,2397.3 952.9,2399.6 953.9,2401.9 954.9,2404.3 955.8,2406.6 956.8,2408.9 957.7,2411.1 958.7,2413.4 959.7,2415.7 960.7,2418.0 961.7,2420.2 962.7,2422.5 963.7,2424.8 964.7,2427.0 965.7,2429.2 966.8,2431.5 967.8,2433.7 968.9,2436.0 970.0,2438.2 971.1,2440.4 972.3,2442.7 973.4,2444.9 974.6,2447.1 975.8,2449.4 977.0,2451.6 978.2,2453.8 979.5,2456.1 980.8,2458.3 982.2,2460.5 983.6,2462.6 985.0,2464.7 986.6,2466.7 988.2,2468.7 989.9,2470.5 991.7,2472.1 993.6,2473.7 995.6,2475.1 997.6,2476.5 999.8,2477.7 1002.0,2478.8 1004.2,2479.9 1006.5,2480.8 1008.9,2481.7 1011.2,2482.5 1013.7,2483.3 1016.1,2484.0 1018.5,2484.6 1020.9,2485.2 1023.4,2485.7 1025.8,2486.2 1028.3,2486.7 1030.8,2487.1 1033.2,2487.5 1035.7,2487.8 1038.2,2488.2 1040.6,2488.5 1043.1,2488.7 1045.6,2488.9 1048.1,2489.1 1050.6,2489.3 1053.1,2489.5 1055.6,2489.6 1058.1,2489.8 1060.6,2489.9 1063.1,2490.0 1065.6,2490.0 1068.1,2490.1 1070.6,2490.2 1073.1,2490.3 1075.6,2490.3 1078.1,2490.4 1080.6,2490.4 1083.1,2490.5 1085.6,2490.5 1088.1,2490.6 1090.6,2490.6 1093.1,2490.7 1095.6,2490.7 1098.1,2490.8 1100.6,2490.8 1103.1,2490.9 1105.6,2490.9 1108.1,2491.0 1110.6,2491.0 1113.1,2491.1 1115.6,2491.1 1118.1,2491.2 1120.6,2491.2 1123.1,2491.3 1125.6,2491.3 1128.1,2491.4 1130.6,2491.4 1133.1,2491.4 1135.6,2491.5 1138.1,2491.5 1140.6,2491.6 1143.1,2491.6 1145.6,2491.6 1148.1,2491.7 1150.7,2491.7 1153.2,2491.7 1155.7,2491.8 1158.2,2491.8 1160.7,2491.9 1163.2,2491.9 1165.7,2491.9 1168.2,2492.0 1170.7,2492.0 1173.2,2492.0 1175.7,2492.1 1178.2,2492.1 1180.7,2492.1 1183.2,2492.1 1185.7,2492.2 1188.2,2492.2 1190.7,2492.2 1193.2,2492.3 1195.7,2492.3 1198.2,2492.3 1200.7,2492.3 1203.2,2492.4 1205.7,2492.4 1208.2,2492.4 1210.7,2492.4 1213.2,2492.5 1215.7,2492.5 1218.2,2492.5 1220.7,2492.5 1223.2,2492.6 1225.7,2492.6 1228.2,2492.6 1230.7,2492.6 1233.2,2492.6 1235.7,2492.7 1238.2,2492.7 1240.7,2492.7 1243.2,2492.7 1245.7,2492.7 1248.2,2492.8 1250.7,2492.8 1253.2,2492.8 1255.7,2492.8 1258.2,2492.8 1260.7,2492.8 1263.2,2492.9 1265.7,2492.9 1268.2,2492.9 1270.7,2492.9 1273.2,2492.9 1275.7,2492.9 1278.2,2492.9 1280.7,2492.9 1283.2,2493.0 1285.7,2493.0 1288.2,2493.0 1290.7,2493.0 1293.2,2493.0 1295.7,2493.0 1298.2,2493.0 1300.7,2493.0 1303.2,2493.0 1305.7,2493.0 1308.2,2493.1 1310.7,2493.1 1313.2,2493.1 1315.7,2493.1 1318.2,2493.1 1320.7,2493.1 1323.2,2493.1 1325.7,2493.1 1328.2,2493.1 1330.7,2493.1 1333.2,2493.1 1335.7,2493.1 1338.2,2493.1 1340.7,2493.1 1343.2,2493.1 1345.7,2493.1 1348.2,2493.1 1350.7,2493.2 1353.2,2493.2 1355.7,2493.2 1358.2,2493.2 1360.7,2493.2 1363.1,2493.2 1365.6,2493.2 1368.1,2493.2 1370.6,2493.2 1373.1,2493.2 1375.6,2493.2 1378.1,2493.2 1380.6,2493.2 1383.1,2493.2 1385.6,2493.2 1388.1,2493.2 1390.6,2493.2 1393.1,2493.2 1395.6,2493.2 1398.1,2493.2 1400.6,2493.2 1403.1,2493.2 1405.6,2493.2 1408.1,2493.2 1410.6,2493.2 1413.1,2493.2 1415.6,2493.2 1418.1,2493.2 1420.6,2493.2 1423.1,2493.1 1425.6,2493.1 1428.1,2493.1 1430.6,2493.1 1433.1,2493.1 1435.6,2493.1 1438.1,2493.1 1440.6,2493.1 1443.1,2493.1 1445.6,2493.1 1448.1,2493.1 1450.6,2493.1 1453.1,2493.1 1455.6,2493.1 1458.1,2493.1 1460.6,2493.1 1463.1,2493.1 1465.6,2493.1 1468.1,2493.1 1470.6,2493.1 1473.1,2493.1 1475.6,2493.1 1478.1,2493.1 1480.6,2493.1 1483.1,2493.1 1485.6,2493.0 1488.1,2493.0 1490.6,2493.0 1493.1,2493.0 1495.6,2493.0 1498.1,2493.0 1500.6,2493.0 1503.0,2493.0 1505.5,2493.0 1508.0,2493.0 1510.5,2493.0 1513.0,2493.0 1515.5,2493.0 1518.0,2493.0 1520.5,2493.0 1523.0,2493.0 1525.5,2493.0 1528.0,2493.0 1530.5,2493.0 1533.0,2492.9 1535.5,2492.9 1538.0,2492.9 1540.5,2492.9 1543.0,2492.9 1545.5,2492.9 1548.0,2492.9 1550.5,2492.9 1553.0,2492.9 1555.5,2492.9 1558.0,2492.9 1560.5,2492.9 1563.0,2492.9 1565.5,2492.9 1568.0,2492.9 1570.5,2492.9 1573.0,2492.9 1575.5,2492.9 1578.0,2492.9 1580.5,2492.9 1583.0,2492.9 1585.5,2492.9 1588.0,2492.8 1590.5,2492.8 1593.0,2492.8 1595.5,2492.8 1598.0,2492.8 1600.5,2492.8 1603.0,2492.8 1605.5,2492.8 1608.0,2492.8 1610.5,2492.8 1613.0,2492.8 1615.5,2492.8 1618.0,2492.8 1620.5,2492.8 1623.0,2492.8 1625.5,2492.8 1628.0,2492.8 1630.5,2492.8 1633.0,2492.8 1635.5,2492.8 1638.0,2492.8 1640.5,2492.8 1643.0,2492.8 1645.5,2492.8 1648.0,2492.8 1650.4,2492.8 1652.9,2492.8 1655.4,2492.8 1657.9,2492.8 1660.4,2492.8 1662.9,2492.8 1665.4,2492.8 1667.9,2492.8 1670.4,2492.8 1672.9,2492.8 1675.4,2492.8 1677.9,2492.8 1680.4,2492.8 1682.9,2492.8 1685.4,2492.8 1687.9,2492.9 1690.4,2492.9 1692.9,2492.9 1695.4,2492.9 1697.9,2492.9 1700.4,2492.9 1702.9,2492.9 1705.4,2492.9 1707.9,2492.9 1710.4,2492.9 1712.9,2492.9 1715.4,2492.9 1717.9,2492.9 1720.4,2492.9 1722.9,2493.0 1725.4,2493.0 1727.9,2493.0 1730.4,2493.0 1732.9,2493.0 1735.4,2493.0 1737.9,2493.0 1740.4,2493.0 1742.9,2493.0 1745.4,2493.0 1747.9,2493.1 1750.4,2493.1 1752.9,2493.1 1755.4,2493.1 1757.9,2493.1 1760.4,2493.1 1762.9,2493.1 1765.4,2493.2 1767.9,2493.2 1770.4,2493.2 1772.9,2493.2 1775.4,2493.2 1777.9,2493.2 1780.4,2493.3 1782.9,2493.3 1785.4,2493.3 1787.9,2493.3 1790.4,2493.3 1792.9,2493.4 1795.4,2493.4 1797.9,2493.4 1800.4,2493.4 1802.9,2493.4 1805.4,2493.5 1807.9,2493.5 1810.4,2493.5 1812.9,2493.5 1815.4,2493.6 1817.9,2493.6 1820.4,2493.6 1822.9,2493.6 1825.4,2493.7 1827.9,2493.7 1830.4,2493.7 1833.0,2493.7 1835.5,2493.8 1838.0,2493.8 1840.5,2493.8 1843.0,2493.9 1845.5,2493.9 1848.0,2493.9 1850.5,2494.0 1853.0,2494.0 1855.5,2494.0 1858.0,2494.1 1860.5,2494.1 1863.0,2494.1 1865.5,2494.2 1868.0,2494.2 1870.5,2494.2 1873.0,2494.3 1875.5,2494.3 1878.0,2494.3 1880.5,2494.4 1883.0,2494.4 1885.5,2494.5 1888.0,2494.5"/>
</defs>
<g fill="none" stroke-linejoin="round" stroke-linecap="butt">
<use href="#c0" stroke="#b4c4e6" stroke-width="9.5"/>
<use href="#c0" stroke="#5070aa" stroke-width="6"/>
<use href="#c1" stroke="#dfe1c0" stroke-width="9.5"/>
<use href="#c1" stroke="#b4b880" stroke-width="6"/>
<use href="#c2" stroke="#cdb6cb" stroke-width="9.5"/>
<use href="#c2" stroke="#4a2046" stroke-width="6"/>
<use href="#c3" stroke="#d2d3b8" stroke-width="9.5"/>
<use href="#c3" stroke="#555a30" stroke-width="6"/>
<use href="#c4" stroke="#f0b8cc" stroke-width="9.5"/>
<use href="#c4" stroke="#a02552" stroke-width="6"/>
<use href="#c5" stroke="#e8ebb0" stroke-width="9.5"/>
<use href="#c5" stroke="#bbc142" stroke-width="6"/>
</g>
<line x1="1434.0" y1="173.0" x2="1560.0" y2="173.0" stroke="#b4c4e6" stroke-width="9.5"/>
<line x1="1434.0" y1="173.0" x2="1560.0" y2="173.0" stroke="#5070aa" stroke-width="6"/>
<line x1="1434.0" y1="256.0" x2="1560.0" y2="256.0" stroke="#dfe1c0" stroke-width="9.5"/>
<line x1="1434.0" y1="256.0" x2="1560.0" y2="256.0" stroke="#b4b880" stroke-width="6"/>
<line x1="1419.0" y1="730.0" x2="1546.0" y2="730.0" stroke="#cdb6cb" stroke-width="9.5"/>
<line x1="1419.0" y1="730.0" x2="1546.0" y2="730.0" stroke="#4a2046" stroke-width="6"/>
<line x1="1419.0" y1="1749.5" x2="1546.0" y2="1749.5" stroke="#d2d3b8" stroke-width="9.5"/>
<line x1="1419.0" y1="1749.5" x2="1546.0" y2="1749.5" stroke="#555a30" stroke-width="6"/>
<line x1="1419.0" y1="1831.5" x2="1546.0" y2="1831.5" stroke="#f0b8cc" stroke-width="9.5"/>
<line x1="1419.0" y1="1831.5" x2="1546.0" y2="1831.5" stroke="#a02552" stroke-width="6"/>
<line x1="1380.0" y1="2298.0" x2="1507.0" y2="2298.0" stroke="#e8ebb0" stroke-width="9.5"/>
<line x1="1380.0" y1="2298.0" x2="1507.0" y2="2298.0" stroke="#bbc142" stroke-width="6"/>
<g stroke="#333" stroke-width="5">
<line x1="333.0" y1="59.0" x2="333.0" y2="83.0"/>
<line x1="644.0" y1="59.0" x2="644.0" y2="72.0"/>
<line x1="955.0" y1="59.0" x2="955.0" y2="83.0"/>
<line x1="1266.0" y1="59.0" x2="1266.0" y2="72.0"/>
<line x1="1577.0" y1="59.0" x2="1577.0" y2="83.0"/>
<line x1="333.0" y1="593.0" x2="333.0" y2="641.0"/>
<line x1="644.0" y1="604.0" x2="644.0" y2="630.0"/>
<line x1="955.0" y1="593.0" x2="955.0" y2="641.0"/>
<line x1="1266.0" y1="604.0" x2="1266.0" y2="630.0"/>
<line x1="1577.0" y1="593.0" x2="1577.0" y2="641.0"/>
<line x1="333.0" y1="1151.0" x2="333.0" y2="1175.0"/>
<line x1="488.5" y1="1162.0" x2="488.5" y2="1175.0"/>
<line x1="644.0" y1="1151.0" x2="644.0" y2="1175.0"/>
<line x1="799.5" y1="1162.0" x2="799.5" y2="1175.0"/>
<line x1="955.0" y1="1151.0" x2="955.0" y2="1175.0"/>
<line x1="1110.5" y1="1162.0" x2="1110.5" y2="1175.0"/>
<line x1="1266.0" y1="1151.0" x2="1266.0" y2="1175.0"/>
<line x1="1421.5" y1="1162.0" x2="1421.5" y2="1175.0"/>
<line x1="1577.0" y1="1151.0" x2="1577.0" y2="1175.0"/>
<line x1="1732.5" y1="1162.0" x2="1732.5" y2="1175.0"/>
<line x1="271.0" y1="537.3" x2="294.0" y2="537.3"/>
<line x1="1865.0" y1="537.3" x2="1888.0" y2="537.3"/>
<line x1="271.0" y1="377.9" x2="294.0" y2="377.9"/>
<line x1="1865.0" y1="377.9" x2="1888.0" y2="377.9"/>
<line x1="271.0" y1="218.4" x2="294.0" y2="218.4"/>
<line x1="1865.0" y1="218.4" x2="1888.0" y2="218.4"/>
<line x1="271.0" y1="457.6" x2="283.0" y2="457.6"/>
<line x1="1876.0" y1="457.6" x2="1888.0" y2="457.6"/>
<line x1="271.0" y1="298.1" x2="283.0" y2="298.1"/>
<line x1="1876.0" y1="298.1" x2="1888.0" y2="298.1"/>
<line x1="271.0" y1="138.7" x2="283.0" y2="138.7"/>
<line x1="1876.0" y1="138.7" x2="1888.0" y2="138.7"/>
<line x1="271.0" y1="1175.0" x2="294.0" y2="1175.0"/>
<line x1="1865.0" y1="1175.0" x2="1888.0" y2="1175.0"/>
<line x1="271.0" y1="1015.6" x2="294.0" y2="1015.6"/>
<line x1="1865.0" y1="1015.6" x2="1888.0" y2="1015.6"/>
<line x1="271.0" y1="856.1" x2="294.0" y2="856.1"/>
<line x1="1865.0" y1="856.1" x2="1888.0" y2="856.1"/>
<line x1="271.0" y1="696.7" x2="294.0" y2="696.7"/>
<line x1="1865.0" y1="696.7" x2="1888.0" y2="696.7"/>
<line x1="271.0" y1="1095.3" x2="283.0" y2="1095.3"/>
<line x1="1876.0" y1="1095.3" x2="1888.0" y2="1095.3"/>
<line x1="271.0" y1="935.9" x2="283.0" y2="935.9"/>
<line x1="1876.0" y1="935.9" x2="1888.0" y2="935.9"/>
<line x1="271.0" y1="776.4" x2="283.0" y2="776.4"/>
<line x1="1876.0" y1="776.4" x2="1888.0" y2="776.4"/>
<line x1="333.0" y1="1628.5" x2="333.0" y2="1652.5"/>
<line x1="644.0" y1="1628.5" x2="644.0" y2="1641.5"/>
<line x1="955.0" y1="1628.5" x2="955.0" y2="1652.5"/>
<line x1="1266.0" y1="1628.5" x2="1266.0" y2="1641.5"/>
<line x1="1577.0" y1="1628.5" x2="1577.0" y2="1652.5"/>
<line x1="333.0" y1="2162.5" x2="333.0" y2="2210.5"/>
<line x1="644.0" y1="2173.5" x2="644.0" y2="2199.5"/>
<line x1="955.0" y1="2162.5" x2="955.0" y2="2210.5"/>
<line x1="1266.0" y1="2173.5" x2="1266.0" y2="2199.5"/>
<line x1="1577.0" y1="2162.5" x2="1577.0" y2="2210.5"/>
<line x1="333.0" y1="2720.5" x2="333.0" y2="2744.5"/>
<line x1="488.5" y1="2731.5" x2="488.5" y2="2744.5"/>
<line x1="644.0" y1="2720.5" x2="644.0" y2="2744.5"/>
<line x1="799.5" y1="2731.5" x2="799.5" y2="2744.5"/>
<line x1="955.0" y1="2720.5" x2="955.0" y2="2744.5"/>
<line x1="1110.5" y1="2731.5" x2="1110.5" y2="2744.5"/>
<line x1="1266.0" y1="2720.5" x2="1266.0" y2="2744.5"/>
<line x1="1421.5" y1="2731.5" x2="1421.5" y2="2744.5"/>
<line x1="1577.0" y1="2720.5" x2="1577.0" y2="2744.5"/>
<line x1="1732.5" y1="2731.5" x2="1732.5" y2="2744.5"/>
<line x1="271.0" y1="2120.9" x2="294.0" y2="2120.9"/>
<line x1="1865.0" y1="2120.9" x2="1888.0" y2="2120.9"/>
<line x1="271.0" y1="1956.7" x2="294.0" y2="1956.7"/>
<line x1="1865.0" y1="1956.7" x2="1888.0" y2="1956.7"/>
<line x1="271.0" y1="1792.6" x2="294.0" y2="1792.6"/>
<line x1="1865.0" y1="1792.6" x2="1888.0" y2="1792.6"/>
<line x1="271.0" y1="2038.8" x2="283.0" y2="2038.8"/>
<line x1="1876.0" y1="2038.8" x2="1888.0" y2="2038.8"/>
<line x1="271.0" y1="1874.7" x2="283.0" y2="1874.7"/>
<line x1="1876.0" y1="1874.7" x2="1888.0" y2="1874.7"/>
<line x1="271.0" y1="1710.6" x2="283.0" y2="1710.6"/>
<line x1="1876.0" y1="1710.6" x2="1888.0" y2="1710.6"/>
<line x1="271.0" y1="2620.5" x2="294.0" y2="2620.5"/>
<line x1="1865.0" y1="2620.5" x2="1888.0" y2="2620.5"/>
<line x1="271.0" y1="2496.5" x2="294.0" y2="2496.5"/>
<line x1="1865.0" y1="2496.5" x2="1888.0" y2="2496.5"/>
<line x1="271.0" y1="2372.5" x2="294.0" y2="2372.5"/>
<line x1="1865.0" y1="2372.5" x2="1888.0" y2="2372.5"/>
<line x1="271.0" y1="2248.5" x2="294.0" y2="2248.5"/>
<line x1="1865.0" y1="2248.5" x2="1888.0" y2="2248.5"/>
<line x1="271.0" y1="2682.5" x2="283.0" y2="2682.5"/>
<line x1="1876.0" y1="2682.5" x2="1888.0" y2="2682.5"/>
<line x1="271.0" y1="2558.5" x2="283.0" y2="2558.5"/>
<line x1="1876.0" y1="2558.5" x2="1888.0" y2="2558.5"/>
<line x1="271.0" y1="2434.5" x2="283.0" y2="2434.5"/>
<line x1="1876.0" y1="2434.5" x2="1888.0" y2="2434.5"/>
<line x1="271.0" y1="2310.5" x2="283.0" y2="2310.5"/>
<line x1="1876.0" y1="2310.5" x2="1888.0" y2="2310.5"/>
</g>
<rect x="271.0" y="59.0" width="1617.0" height="1116.0" fill="none" stroke="#333" stroke-width="5.5"/>
<line x1="271.0" y1="617.0" x2="1888.0" y2="617.0" stroke="#1a1a1a" stroke-width="4.5"/>
<rect x="271.0" y="1628.5" width="1617.0" height="1116.0" fill="none" stroke="#333" stroke-width="5.5"/>
<line x1="271.0" y1="2186.5" x2="1888.0" y2="2186.5" stroke="#1a1a1a" stroke-width="4.5"/>
<g font-family="'Liberation Sans', Arial, Helvetica, sans-serif" font-size="70.0" fill="#111">
<text transform="translate(247.0,78.5) scale(0.9600,1)" text-anchor="end">15</text>
<text transform="translate(247.0,237.9) scale(0.9600,1)" text-anchor="end">10</text>
<text transform="translate(247.0,397.4) scale(0.9600,1)" text-anchor="end">5</text>
<text transform="translate(247.0,556.8) scale(0.9600,1)" text-anchor="end">0</text>
<text transform="translate(247.0,716.2) scale(0.9600,1)" text-anchor="end">20</text>
<text transform="translate(247.0,875.6) scale(0.9600,1)" text-anchor="end">10</text>
<text transform="translate(247.0,1035.1) scale(0.9600,1)" text-anchor="end">0</text>
<text transform="translate(247.0,1194.5) scale(0.9600,1)" text-anchor="end">-10</text>
<text transform="translate(247.0,1648.0) scale(0.9600,1)" text-anchor="end">15</text>
<text transform="translate(247.0,1812.1) scale(0.9600,1)" text-anchor="end">10</text>
<text transform="translate(247.0,1976.2) scale(0.9600,1)" text-anchor="end">5</text>
<text transform="translate(247.0,2140.4) scale(0.9600,1)" text-anchor="end">0</text>
<text transform="translate(247.0,2268.0) scale(0.9600,1)" text-anchor="end">10</text>
<text transform="translate(247.0,2392.0) scale(0.9600,1)" text-anchor="end">5</text>
<text transform="translate(247.0,2516.0) scale(0.9600,1)" text-anchor="end">0</text>
<text transform="translate(247.0,2640.0) scale(0.9600,1)" text-anchor="end">-5</text>
<text transform="translate(247.0,2764.0) scale(0.9600,1)" text-anchor="end">-10</text>
<text transform="translate(334.5,1252.5) scale(0.9600,1)" text-anchor="middle">0.0</text>
<text transform="translate(645.5,1252.5) scale(0.9600,1)" text-anchor="middle">0.5</text>
<text transform="translate(956.5,1252.5) scale(0.9600,1)" text-anchor="middle">1.0</text>
<text transform="translate(1267.5,1252.5) scale(0.9600,1)" text-anchor="middle">1.5</text>
<text transform="translate(1578.5,1252.5) scale(0.9600,1)" text-anchor="middle">2.0</text>
<text transform="translate(1889.5,1252.5) scale(0.9600,1)" text-anchor="middle">2.5</text>
<text transform="translate(334.5,2822.0) scale(0.9600,1)" text-anchor="middle">0.0</text>
<text transform="translate(645.5,2822.0) scale(0.9600,1)" text-anchor="middle">0.5</text>
<text transform="translate(956.5,2822.0) scale(0.9600,1)" text-anchor="middle">1.0</text>
<text transform="translate(1267.5,2822.0) scale(0.9600,1)" text-anchor="middle">1.5</text>
<text transform="translate(1578.5,2822.0) scale(0.9600,1)" text-anchor="middle">2.0</text>
<text transform="translate(1889.5,2822.0) scale(0.9600,1)" text-anchor="middle">2.5</text>
<text transform="translate(829.0,1362.5) scale(0.9600,1)" text-anchor="start">Frequency (THz)</text>
<text transform="translate(829.0,2932.0) scale(0.9600,1)" text-anchor="start">Frequency (THz)</text>
<text transform="translate(86.0,990.4) rotate(-90) scale(0.9635,1)" text-anchor="start">Power Spectrum (a.u.)</text>
<text transform="translate(128.5,2546.5) rotate(-90) scale(0.9635,1)" text-anchor="start">Power Spectrum (a.u.)</text>
<text transform="translate(1573.5,190.5) scale(0.9600,1)" text-anchor="start">Bi</text>
<text transform="translate(1573.5,274.0) scale(0.9600,1)" text-anchor="start">Se</text>
<text transform="translate(1559.0,749.0) scale(0.9600,1)" text-anchor="start">BiSe</text>
<text transform="translate(1559.0,1767.2) scale(0.9600,1)" text-anchor="start">Cu</text>
<text transform="translate(1559.0,1849.0) scale(0.9600,1)" text-anchor="start">Se</text>
<text transform="translate(1522.0,2315.0) scale(0.9600,1)" text-anchor="start">CuSe</text>
</g>
<g font-family="'Liberation Serif', 'Times New Roman', serif" fill="#262626">
<text x="1001.0" y="1495.5" text-anchor="middle" font-size="72">(<tspan font-size="62">a</tspan>)</text>
<text x="1001.0" y="3064.5" text-anchor="middle" font-size="72">(<tspan font-size="62">b</tspan>)</text>
</g>
</svg>
</body></html>
